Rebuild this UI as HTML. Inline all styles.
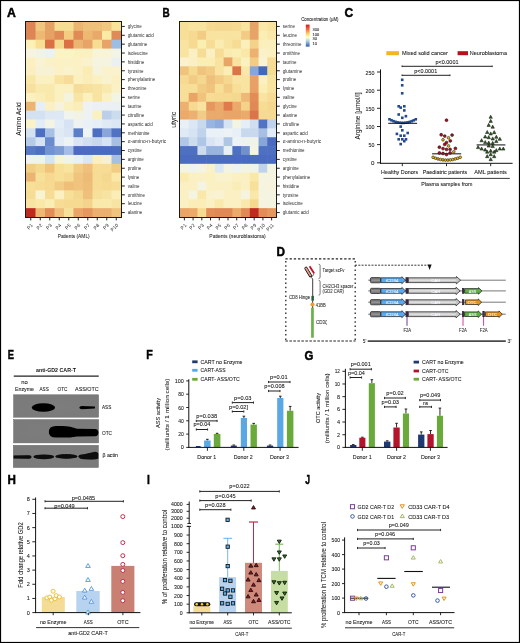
<!DOCTYPE html>
<html><head><meta charset="utf-8"><style>
html,body{margin:0;padding:0;background:#fff;}
svg{display:block;will-change:transform;}
svg text{font-family:"Liberation Sans", sans-serif;}
</style></head><body>
<svg width="520" height="643" viewBox="0 0 520 643" font-family='"Liberation Sans", sans-serif'>
<rect x="0" y="0" width="520" height="643" fill="#fff"/>
<text transform="translate(6.9 16.9) scale(1.02 1)" font-size="12" font-weight="bold" fill="#000" stroke="#000" stroke-width="0.45">A</text>
<rect x="26.00" y="22.00" width="10.10" height="9.46" fill="#dd8555"/>
<rect x="35.50" y="22.00" width="10.10" height="9.46" fill="#f0c77f"/>
<rect x="45.00" y="22.00" width="10.10" height="9.46" fill="#e6a265"/>
<rect x="54.50" y="22.00" width="10.10" height="9.46" fill="#f5de94"/>
<rect x="64.00" y="22.00" width="10.10" height="9.46" fill="#f5de94"/>
<rect x="73.50" y="22.00" width="10.10" height="9.46" fill="#ebb470"/>
<rect x="83.00" y="22.00" width="10.10" height="9.46" fill="#efc07a"/>
<rect x="92.50" y="22.00" width="10.10" height="9.46" fill="#efc07a"/>
<rect x="102.00" y="22.00" width="10.10" height="9.46" fill="#f0c77f"/>
<rect x="111.50" y="22.00" width="10.10" height="9.46" fill="#f7e49a"/>
<rect x="26.00" y="30.86" width="10.10" height="9.46" fill="#dd8555"/>
<rect x="35.50" y="30.86" width="10.10" height="9.46" fill="#edb872"/>
<rect x="45.00" y="30.86" width="10.10" height="9.46" fill="#e6a265"/>
<rect x="54.50" y="30.86" width="10.10" height="9.46" fill="#e08a58"/>
<rect x="64.00" y="30.86" width="10.10" height="9.46" fill="#f2cc80"/>
<rect x="73.50" y="30.86" width="10.10" height="9.46" fill="#e08a58"/>
<rect x="83.00" y="30.86" width="10.10" height="9.46" fill="#edb872"/>
<rect x="92.50" y="30.86" width="10.10" height="9.46" fill="#e9a96a"/>
<rect x="102.00" y="30.86" width="10.10" height="9.46" fill="#f9eaa6"/>
<rect x="111.50" y="30.86" width="10.10" height="9.46" fill="#e08a58"/>
<rect x="26.00" y="39.73" width="10.10" height="9.46" fill="#fcf0b6"/>
<rect x="35.50" y="39.73" width="10.10" height="9.46" fill="#f7df94"/>
<rect x="45.00" y="39.73" width="10.10" height="9.46" fill="#db7045"/>
<rect x="54.50" y="39.73" width="10.10" height="9.46" fill="#f5d98e"/>
<rect x="64.00" y="39.73" width="10.10" height="9.46" fill="#db7045"/>
<rect x="73.50" y="39.73" width="10.10" height="9.46" fill="#ebb470"/>
<rect x="83.00" y="39.73" width="10.10" height="9.46" fill="#e8a468"/>
<rect x="92.50" y="39.73" width="10.10" height="9.46" fill="#f6dd92"/>
<rect x="102.00" y="39.73" width="10.10" height="9.46" fill="#e8a468"/>
<rect x="111.50" y="39.73" width="10.10" height="9.46" fill="#9dbde4"/>
<rect x="26.00" y="48.59" width="10.10" height="9.46" fill="#f6f4e0"/>
<rect x="35.50" y="48.59" width="10.10" height="9.46" fill="#f1f3e6"/>
<rect x="45.00" y="48.59" width="10.10" height="9.46" fill="#ebf2f3"/>
<rect x="54.50" y="48.59" width="10.10" height="9.46" fill="#fcf3c4"/>
<rect x="64.00" y="48.59" width="10.10" height="9.46" fill="#fcf3c4"/>
<rect x="73.50" y="48.59" width="10.10" height="9.46" fill="#fbf1c0"/>
<rect x="83.00" y="48.59" width="10.10" height="9.46" fill="#fbf1c0"/>
<rect x="92.50" y="48.59" width="10.10" height="9.46" fill="#f8f4d8"/>
<rect x="102.00" y="48.59" width="10.10" height="9.46" fill="#f8f4d8"/>
<rect x="111.50" y="48.59" width="10.10" height="9.46" fill="#f3f4e6"/>
<rect x="26.00" y="57.45" width="10.10" height="9.46" fill="#fcf0c0"/>
<rect x="35.50" y="57.45" width="10.10" height="9.46" fill="#f9f3d4"/>
<rect x="45.00" y="57.45" width="10.10" height="9.46" fill="#fbf1c6"/>
<rect x="54.50" y="57.45" width="10.10" height="9.46" fill="#fbf1c4"/>
<rect x="64.00" y="57.45" width="10.10" height="9.46" fill="#fbf1c6"/>
<rect x="73.50" y="57.45" width="10.10" height="9.46" fill="#fbf1c4"/>
<rect x="83.00" y="57.45" width="10.10" height="9.46" fill="#f9f2cc"/>
<rect x="92.50" y="57.45" width="10.10" height="9.46" fill="#f5f4e0"/>
<rect x="102.00" y="57.45" width="10.10" height="9.46" fill="#f5f4e0"/>
<rect x="111.50" y="57.45" width="10.10" height="9.46" fill="#ebf1f3"/>
<rect x="26.00" y="66.32" width="10.10" height="9.46" fill="#fbeec0"/>
<rect x="35.50" y="66.32" width="10.10" height="9.46" fill="#f8f2d4"/>
<rect x="45.00" y="66.32" width="10.10" height="9.46" fill="#f8f2d4"/>
<rect x="54.50" y="66.32" width="10.10" height="9.46" fill="#fbf1c6"/>
<rect x="64.00" y="66.32" width="10.10" height="9.46" fill="#faf2cc"/>
<rect x="73.50" y="66.32" width="10.10" height="9.46" fill="#fbf1c6"/>
<rect x="83.00" y="66.32" width="10.10" height="9.46" fill="#fbecb4"/>
<rect x="92.50" y="66.32" width="10.10" height="9.46" fill="#f6f3dc"/>
<rect x="102.00" y="66.32" width="10.10" height="9.46" fill="#f9f2cc"/>
<rect x="111.50" y="66.32" width="10.10" height="9.46" fill="#f9f2cc"/>
<rect x="26.00" y="75.18" width="10.10" height="9.46" fill="#f9e7a8"/>
<rect x="35.50" y="75.18" width="10.10" height="9.46" fill="#faf0c4"/>
<rect x="45.00" y="75.18" width="10.10" height="9.46" fill="#fbf0c0"/>
<rect x="54.50" y="75.18" width="10.10" height="9.46" fill="#f8e3a0"/>
<rect x="64.00" y="75.18" width="10.10" height="9.46" fill="#f6dc98"/>
<rect x="73.50" y="75.18" width="10.10" height="9.46" fill="#fbf0c0"/>
<rect x="83.00" y="75.18" width="10.10" height="9.46" fill="#faedb8"/>
<rect x="92.50" y="75.18" width="10.10" height="9.46" fill="#fbf0c0"/>
<rect x="102.00" y="75.18" width="10.10" height="9.46" fill="#f8f2d0"/>
<rect x="111.50" y="75.18" width="10.10" height="9.46" fill="#faf0c4"/>
<rect x="26.00" y="84.05" width="10.10" height="9.46" fill="#f7e0a0"/>
<rect x="35.50" y="84.05" width="10.10" height="9.46" fill="#f9e9ac"/>
<rect x="45.00" y="84.05" width="10.10" height="9.46" fill="#f9e9ac"/>
<rect x="54.50" y="84.05" width="10.10" height="9.46" fill="#faf0c0"/>
<rect x="64.00" y="84.05" width="10.10" height="9.46" fill="#faf0c0"/>
<rect x="73.50" y="84.05" width="10.10" height="9.46" fill="#f6dc98"/>
<rect x="83.00" y="84.05" width="10.10" height="9.46" fill="#f7e09c"/>
<rect x="92.50" y="84.05" width="10.10" height="9.46" fill="#f8e4a2"/>
<rect x="102.00" y="84.05" width="10.10" height="9.46" fill="#f9e9ac"/>
<rect x="111.50" y="84.05" width="10.10" height="9.46" fill="#fbf1c6"/>
<rect x="26.00" y="92.91" width="10.10" height="9.46" fill="#fbf0c0"/>
<rect x="35.50" y="92.91" width="10.10" height="9.46" fill="#faedb8"/>
<rect x="45.00" y="92.91" width="10.10" height="9.46" fill="#f9e9ac"/>
<rect x="54.50" y="92.91" width="10.10" height="9.46" fill="#fbf0c0"/>
<rect x="64.00" y="92.91" width="10.10" height="9.46" fill="#f3f3df"/>
<rect x="73.50" y="92.91" width="10.10" height="9.46" fill="#f8e5a4"/>
<rect x="83.00" y="92.91" width="10.10" height="9.46" fill="#fbf0c0"/>
<rect x="92.50" y="92.91" width="10.10" height="9.46" fill="#f8e4a2"/>
<rect x="102.00" y="92.91" width="10.10" height="9.46" fill="#faf0c4"/>
<rect x="111.50" y="92.91" width="10.10" height="9.46" fill="#f2f4e4"/>
<rect x="26.00" y="101.77" width="10.10" height="9.46" fill="#ebb470"/>
<rect x="35.50" y="101.77" width="10.10" height="9.46" fill="#e6eff8"/>
<rect x="45.00" y="101.77" width="10.10" height="9.46" fill="#fbf0c4"/>
<rect x="54.50" y="101.77" width="10.10" height="9.46" fill="#f6f2dc"/>
<rect x="64.00" y="101.77" width="10.10" height="9.46" fill="#fbf0c0"/>
<rect x="73.50" y="101.77" width="10.10" height="9.46" fill="#faedb8"/>
<rect x="83.00" y="101.77" width="10.10" height="9.46" fill="#eef2f2"/>
<rect x="92.50" y="101.77" width="10.10" height="9.46" fill="#eaf0f4"/>
<rect x="102.00" y="101.77" width="10.10" height="9.46" fill="#eaf0f4"/>
<rect x="111.50" y="101.77" width="10.10" height="9.46" fill="#eaf0f4"/>
<rect x="26.00" y="110.64" width="10.10" height="9.46" fill="#d3e1f1"/>
<rect x="35.50" y="110.64" width="10.10" height="9.46" fill="#d3e1f1"/>
<rect x="45.00" y="110.64" width="10.10" height="9.46" fill="#dde8f4"/>
<rect x="54.50" y="110.64" width="10.10" height="9.46" fill="#dde8f4"/>
<rect x="64.00" y="110.64" width="10.10" height="9.46" fill="#f0f3ee"/>
<rect x="73.50" y="110.64" width="10.10" height="9.46" fill="#f3f3e4"/>
<rect x="83.00" y="110.64" width="10.10" height="9.46" fill="#eef2f2"/>
<rect x="92.50" y="110.64" width="10.10" height="9.46" fill="#fbf0c0"/>
<rect x="102.00" y="110.64" width="10.10" height="9.46" fill="#bccfea"/>
<rect x="111.50" y="110.64" width="10.10" height="9.46" fill="#ccdcef"/>
<rect x="26.00" y="119.50" width="10.10" height="9.46" fill="#fbf3c8"/>
<rect x="35.50" y="119.50" width="10.10" height="9.46" fill="#e3edf7"/>
<rect x="45.00" y="119.50" width="10.10" height="9.46" fill="#f3f4e6"/>
<rect x="54.50" y="119.50" width="10.10" height="9.46" fill="#e3edf7"/>
<rect x="64.00" y="119.50" width="10.10" height="9.46" fill="#d6e3f2"/>
<rect x="73.50" y="119.50" width="10.10" height="9.46" fill="#eef2f0"/>
<rect x="83.00" y="119.50" width="10.10" height="9.46" fill="#eaf0f6"/>
<rect x="92.50" y="119.50" width="10.10" height="9.46" fill="#e6eff8"/>
<rect x="102.00" y="119.50" width="10.10" height="9.46" fill="#e0eaf5"/>
<rect x="111.50" y="119.50" width="10.10" height="9.46" fill="#dce7f4"/>
<rect x="26.00" y="128.36" width="10.10" height="9.46" fill="#d3e1f1"/>
<rect x="35.50" y="128.36" width="10.10" height="9.46" fill="#4d6fc2"/>
<rect x="45.00" y="128.36" width="10.10" height="9.46" fill="#a8c0e4"/>
<rect x="54.50" y="128.36" width="10.10" height="9.46" fill="#e0eaf5"/>
<rect x="64.00" y="128.36" width="10.10" height="9.46" fill="#dae5f3"/>
<rect x="73.50" y="128.36" width="10.10" height="9.46" fill="#5a7ec8"/>
<rect x="83.00" y="128.36" width="10.10" height="9.46" fill="#eef3f3"/>
<rect x="92.50" y="128.36" width="10.10" height="9.46" fill="#4d6fc2"/>
<rect x="102.00" y="128.36" width="10.10" height="9.46" fill="#8aa6d8"/>
<rect x="111.50" y="128.36" width="10.10" height="9.46" fill="#4f72c4"/>
<rect x="26.00" y="137.23" width="10.10" height="9.46" fill="#b5cbe8"/>
<rect x="35.50" y="137.23" width="10.10" height="9.46" fill="#d6e3f2"/>
<rect x="45.00" y="137.23" width="10.10" height="9.46" fill="#6a8ccf"/>
<rect x="54.50" y="137.23" width="10.10" height="9.46" fill="#e3ecf6"/>
<rect x="64.00" y="137.23" width="10.10" height="9.46" fill="#edf2f3"/>
<rect x="73.50" y="137.23" width="10.10" height="9.46" fill="#dae5f3"/>
<rect x="83.00" y="137.23" width="10.10" height="9.46" fill="#d0def0"/>
<rect x="92.50" y="137.23" width="10.10" height="9.46" fill="#c8d9ee"/>
<rect x="102.00" y="137.23" width="10.10" height="9.46" fill="#d6e3f2"/>
<rect x="111.50" y="137.23" width="10.10" height="9.46" fill="#a6bfe3"/>
<rect x="26.00" y="146.09" width="10.10" height="9.46" fill="#5778c6"/>
<rect x="35.50" y="146.09" width="10.10" height="9.46" fill="#4f70c2"/>
<rect x="45.00" y="146.09" width="10.10" height="9.46" fill="#7293d2"/>
<rect x="54.50" y="146.09" width="10.10" height="9.46" fill="#7d9bd5"/>
<rect x="64.00" y="146.09" width="10.10" height="9.46" fill="#a3bde3"/>
<rect x="73.50" y="146.09" width="10.10" height="9.46" fill="#4a6bc0"/>
<rect x="83.00" y="146.09" width="10.10" height="9.46" fill="#4a6bc0"/>
<rect x="92.50" y="146.09" width="10.10" height="9.46" fill="#4a6bc0"/>
<rect x="102.00" y="146.09" width="10.10" height="9.46" fill="#4a6bc0"/>
<rect x="111.50" y="146.09" width="10.10" height="9.46" fill="#4a6bc0"/>
<rect x="26.00" y="154.95" width="10.10" height="9.46" fill="#f0f3ec"/>
<rect x="35.50" y="154.95" width="10.10" height="9.46" fill="#f0f3ec"/>
<rect x="45.00" y="154.95" width="10.10" height="9.46" fill="#d6e3f2"/>
<rect x="54.50" y="154.95" width="10.10" height="9.46" fill="#f8f2d6"/>
<rect x="64.00" y="154.95" width="10.10" height="9.46" fill="#f0f3ec"/>
<rect x="73.50" y="154.95" width="10.10" height="9.46" fill="#e8eff6"/>
<rect x="83.00" y="154.95" width="10.10" height="9.46" fill="#dae6f3"/>
<rect x="92.50" y="154.95" width="10.10" height="9.46" fill="#fbf0bd"/>
<rect x="102.00" y="154.95" width="10.10" height="9.46" fill="#f8f1d0"/>
<rect x="111.50" y="154.95" width="10.10" height="9.46" fill="#a6bfe3"/>
<rect x="26.00" y="163.82" width="10.10" height="9.46" fill="#f2cd84"/>
<rect x="35.50" y="163.82" width="10.10" height="9.46" fill="#f5d890"/>
<rect x="45.00" y="163.82" width="10.10" height="9.46" fill="#f0c47c"/>
<rect x="54.50" y="163.82" width="10.10" height="9.46" fill="#f7df98"/>
<rect x="64.00" y="163.82" width="10.10" height="9.46" fill="#f8e4a0"/>
<rect x="73.50" y="163.82" width="10.10" height="9.46" fill="#f2cc84"/>
<rect x="83.00" y="163.82" width="10.10" height="9.46" fill="#efc07c"/>
<rect x="92.50" y="163.82" width="10.10" height="9.46" fill="#f6dc94"/>
<rect x="102.00" y="163.82" width="10.10" height="9.46" fill="#f6dc94"/>
<rect x="111.50" y="163.82" width="10.10" height="9.46" fill="#f2cc84"/>
<rect x="26.00" y="172.68" width="10.10" height="9.46" fill="#ecb472"/>
<rect x="35.50" y="172.68" width="10.10" height="9.46" fill="#f7e09a"/>
<rect x="45.00" y="172.68" width="10.10" height="9.46" fill="#f6d890"/>
<rect x="54.50" y="172.68" width="10.10" height="9.46" fill="#f7df98"/>
<rect x="64.00" y="172.68" width="10.10" height="9.46" fill="#f6da92"/>
<rect x="73.50" y="172.68" width="10.10" height="9.46" fill="#f0c47c"/>
<rect x="83.00" y="172.68" width="10.10" height="9.46" fill="#edbb78"/>
<rect x="92.50" y="172.68" width="10.10" height="9.46" fill="#f6dc94"/>
<rect x="102.00" y="172.68" width="10.10" height="9.46" fill="#f5d890"/>
<rect x="111.50" y="172.68" width="10.10" height="9.46" fill="#f9e8a6"/>
<rect x="26.00" y="181.55" width="10.10" height="9.46" fill="#f7df98"/>
<rect x="35.50" y="181.55" width="10.10" height="9.46" fill="#f6dc94"/>
<rect x="45.00" y="181.55" width="10.10" height="9.46" fill="#f6da92"/>
<rect x="54.50" y="181.55" width="10.10" height="9.46" fill="#f2cc84"/>
<rect x="64.00" y="181.55" width="10.10" height="9.46" fill="#efbf7a"/>
<rect x="73.50" y="181.55" width="10.10" height="9.46" fill="#f0c47c"/>
<rect x="83.00" y="181.55" width="10.10" height="9.46" fill="#eebd78"/>
<rect x="92.50" y="181.55" width="10.10" height="9.46" fill="#f6dc94"/>
<rect x="102.00" y="181.55" width="10.10" height="9.46" fill="#f6da92"/>
<rect x="111.50" y="181.55" width="10.10" height="9.46" fill="#f6dc94"/>
<rect x="26.00" y="190.41" width="10.10" height="9.46" fill="#f6dc94"/>
<rect x="35.50" y="190.41" width="10.10" height="9.46" fill="#f8f3d0"/>
<rect x="45.00" y="190.41" width="10.10" height="9.46" fill="#f6dc94"/>
<rect x="54.50" y="190.41" width="10.10" height="9.46" fill="#faf0c0"/>
<rect x="64.00" y="190.41" width="10.10" height="9.46" fill="#f7e09a"/>
<rect x="73.50" y="190.41" width="10.10" height="9.46" fill="#f5d890"/>
<rect x="83.00" y="190.41" width="10.10" height="9.46" fill="#efc07c"/>
<rect x="92.50" y="190.41" width="10.10" height="9.46" fill="#f7e09a"/>
<rect x="102.00" y="190.41" width="10.10" height="9.46" fill="#f8e4a2"/>
<rect x="111.50" y="190.41" width="10.10" height="9.46" fill="#faedb6"/>
<rect x="26.00" y="199.27" width="10.10" height="9.46" fill="#f8e4a2"/>
<rect x="35.50" y="199.27" width="10.10" height="9.46" fill="#f9e8a8"/>
<rect x="45.00" y="199.27" width="10.10" height="9.46" fill="#faeeb4"/>
<rect x="54.50" y="199.27" width="10.10" height="9.46" fill="#f6dc94"/>
<rect x="64.00" y="199.27" width="10.10" height="9.46" fill="#f6da92"/>
<rect x="73.50" y="199.27" width="10.10" height="9.46" fill="#f6da92"/>
<rect x="83.00" y="199.27" width="10.10" height="9.46" fill="#f4d48c"/>
<rect x="92.50" y="199.27" width="10.10" height="9.46" fill="#f9eaac"/>
<rect x="102.00" y="199.27" width="10.10" height="9.46" fill="#f9eaac"/>
<rect x="111.50" y="199.27" width="10.10" height="9.46" fill="#f8e4a2"/>
<rect x="26.00" y="208.14" width="10.10" height="9.46" fill="#bf2a1e"/>
<rect x="35.50" y="208.14" width="10.10" height="9.46" fill="#edb874"/>
<rect x="45.00" y="208.14" width="10.10" height="9.46" fill="#e28c58"/>
<rect x="54.50" y="208.14" width="10.10" height="9.46" fill="#efc07c"/>
<rect x="64.00" y="208.14" width="10.10" height="9.46" fill="#f7e09a"/>
<rect x="73.50" y="208.14" width="10.10" height="9.46" fill="#e9a466"/>
<rect x="83.00" y="208.14" width="10.10" height="9.46" fill="#e49860"/>
<rect x="92.50" y="208.14" width="10.10" height="9.46" fill="#ebb070"/>
<rect x="102.00" y="208.14" width="10.10" height="9.46" fill="#ebb070"/>
<rect x="111.50" y="208.14" width="10.10" height="9.46" fill="#f0c47c"/>
<rect x="25.50" y="21.50" width="96.00" height="196.00" fill="none" stroke="#1a1a1a" stroke-width="1"/>
<line x1="122.00" y1="26.43" x2="124.80" y2="26.43" stroke="#222" stroke-width="1"/>
<text x="127.80" y="26.68" font-size="4.9" text-anchor="start" fill="#2a2a2a" textLength="13.88" lengthAdjust="spacingAndGlyphs" dominant-baseline="central">glycine</text>
<line x1="122.00" y1="35.30" x2="124.80" y2="35.30" stroke="#222" stroke-width="1"/>
<text x="127.80" y="35.55" font-size="4.9" text-anchor="start" fill="#2a2a2a" textLength="26.02" lengthAdjust="spacingAndGlyphs" dominant-baseline="central">glutamic acid</text>
<line x1="122.00" y1="44.16" x2="124.80" y2="44.16" stroke="#222" stroke-width="1"/>
<text x="127.80" y="44.41" font-size="4.9" text-anchor="start" fill="#2a2a2a" textLength="19.33" lengthAdjust="spacingAndGlyphs" dominant-baseline="central">glutamine</text>
<line x1="122.00" y1="53.02" x2="124.80" y2="53.02" stroke="#222" stroke-width="1"/>
<text x="127.80" y="53.27" font-size="4.9" text-anchor="start" fill="#2a2a2a" textLength="19.83" lengthAdjust="spacingAndGlyphs" dominant-baseline="central">isoleucine</text>
<line x1="122.00" y1="61.89" x2="124.80" y2="61.89" stroke="#222" stroke-width="1"/>
<text x="127.80" y="62.14" font-size="4.9" text-anchor="start" fill="#2a2a2a" textLength="16.36" lengthAdjust="spacingAndGlyphs" dominant-baseline="central">histidine</text>
<line x1="122.00" y1="70.75" x2="124.80" y2="70.75" stroke="#222" stroke-width="1"/>
<text x="127.80" y="71.00" font-size="4.9" text-anchor="start" fill="#2a2a2a" textLength="15.61" lengthAdjust="spacingAndGlyphs" dominant-baseline="central">tyrosine</text>
<line x1="122.00" y1="79.61" x2="124.80" y2="79.61" stroke="#222" stroke-width="1"/>
<text x="127.80" y="79.86" font-size="4.9" text-anchor="start" fill="#2a2a2a" textLength="27.52" lengthAdjust="spacingAndGlyphs" dominant-baseline="central">phenylalanine</text>
<line x1="122.00" y1="88.48" x2="124.80" y2="88.48" stroke="#222" stroke-width="1"/>
<text x="127.80" y="88.73" font-size="4.9" text-anchor="start" fill="#2a2a2a" textLength="18.59" lengthAdjust="spacingAndGlyphs" dominant-baseline="central">threonine</text>
<line x1="122.00" y1="97.34" x2="124.80" y2="97.34" stroke="#222" stroke-width="1"/>
<text x="127.80" y="97.59" font-size="4.9" text-anchor="start" fill="#2a2a2a" textLength="12.14" lengthAdjust="spacingAndGlyphs" dominant-baseline="central">serine</text>
<line x1="122.00" y1="106.20" x2="124.80" y2="106.20" stroke="#222" stroke-width="1"/>
<text x="127.80" y="106.45" font-size="4.9" text-anchor="start" fill="#2a2a2a" textLength="13.63" lengthAdjust="spacingAndGlyphs" dominant-baseline="central">taurine</text>
<line x1="122.00" y1="115.07" x2="124.80" y2="115.07" stroke="#222" stroke-width="1"/>
<text x="127.80" y="115.32" font-size="4.9" text-anchor="start" fill="#2a2a2a" textLength="16.35" lengthAdjust="spacingAndGlyphs" dominant-baseline="central">citrulline</text>
<line x1="122.00" y1="123.93" x2="124.80" y2="123.93" stroke="#222" stroke-width="1"/>
<text x="127.80" y="124.18" font-size="4.9" text-anchor="start" fill="#2a2a2a" textLength="25.03" lengthAdjust="spacingAndGlyphs" dominant-baseline="central">aspartic acid</text>
<line x1="122.00" y1="132.80" x2="124.80" y2="132.80" stroke="#222" stroke-width="1"/>
<text x="127.80" y="133.05" font-size="4.9" text-anchor="start" fill="#2a2a2a" textLength="21.81" lengthAdjust="spacingAndGlyphs" dominant-baseline="central">methionine</text>
<line x1="122.00" y1="141.66" x2="124.80" y2="141.66" stroke="#222" stroke-width="1"/>
<text x="127.80" y="141.91" font-size="4.9" text-anchor="start" fill="#2a2a2a" textLength="38.40" lengthAdjust="spacingAndGlyphs" dominant-baseline="central">α-amino-n-butyric</text>
<line x1="122.00" y1="150.52" x2="124.80" y2="150.52" stroke="#222" stroke-width="1"/>
<text x="127.80" y="150.77" font-size="4.9" text-anchor="start" fill="#2a2a2a" textLength="13.88" lengthAdjust="spacingAndGlyphs" dominant-baseline="central">cystine</text>
<line x1="122.00" y1="159.39" x2="124.80" y2="159.39" stroke="#222" stroke-width="1"/>
<text x="127.80" y="159.64" font-size="4.9" text-anchor="start" fill="#2a2a2a" textLength="15.86" lengthAdjust="spacingAndGlyphs" dominant-baseline="central">arginine</text>
<line x1="122.00" y1="168.25" x2="124.80" y2="168.25" stroke="#222" stroke-width="1"/>
<text x="127.80" y="168.50" font-size="4.9" text-anchor="start" fill="#2a2a2a" textLength="13.38" lengthAdjust="spacingAndGlyphs" dominant-baseline="central">proline</text>
<line x1="122.00" y1="177.11" x2="124.80" y2="177.11" stroke="#222" stroke-width="1"/>
<text x="127.80" y="177.36" font-size="4.9" text-anchor="start" fill="#2a2a2a" textLength="11.40" lengthAdjust="spacingAndGlyphs" dominant-baseline="central">lysine</text>
<line x1="122.00" y1="185.98" x2="124.80" y2="185.98" stroke="#222" stroke-width="1"/>
<text x="127.80" y="186.23" font-size="4.9" text-anchor="start" fill="#2a2a2a" textLength="11.65" lengthAdjust="spacingAndGlyphs" dominant-baseline="central">valine</text>
<line x1="122.00" y1="194.84" x2="124.80" y2="194.84" stroke="#222" stroke-width="1"/>
<text x="127.80" y="195.09" font-size="4.9" text-anchor="start" fill="#2a2a2a" textLength="17.10" lengthAdjust="spacingAndGlyphs" dominant-baseline="central">ornithine</text>
<line x1="122.00" y1="203.70" x2="124.80" y2="203.70" stroke="#222" stroke-width="1"/>
<text x="127.80" y="203.95" font-size="4.9" text-anchor="start" fill="#2a2a2a" textLength="14.13" lengthAdjust="spacingAndGlyphs" dominant-baseline="central">leucine</text>
<line x1="122.00" y1="212.57" x2="124.80" y2="212.57" stroke="#222" stroke-width="1"/>
<text x="127.80" y="212.82" font-size="4.9" text-anchor="start" fill="#2a2a2a" textLength="14.38" lengthAdjust="spacingAndGlyphs" dominant-baseline="central">alanine</text>
<line x1="30.75" y1="218.00" x2="30.75" y2="220.40" stroke="#222" stroke-width="1"/>
<text x="32.15" y="224.60" font-size="4.9" text-anchor="end" fill="#2a2a2a" transform="rotate(-45 32.15 224.60)" dominant-baseline="central">P1</text>
<line x1="40.25" y1="218.00" x2="40.25" y2="220.40" stroke="#222" stroke-width="1"/>
<text x="41.65" y="224.60" font-size="4.9" text-anchor="end" fill="#2a2a2a" transform="rotate(-45 41.65 224.60)" dominant-baseline="central">P2</text>
<line x1="49.75" y1="218.00" x2="49.75" y2="220.40" stroke="#222" stroke-width="1"/>
<text x="51.15" y="224.60" font-size="4.9" text-anchor="end" fill="#2a2a2a" transform="rotate(-45 51.15 224.60)" dominant-baseline="central">P3</text>
<line x1="59.25" y1="218.00" x2="59.25" y2="220.40" stroke="#222" stroke-width="1"/>
<text x="60.65" y="224.60" font-size="4.9" text-anchor="end" fill="#2a2a2a" transform="rotate(-45 60.65 224.60)" dominant-baseline="central">P4</text>
<line x1="68.75" y1="218.00" x2="68.75" y2="220.40" stroke="#222" stroke-width="1"/>
<text x="70.15" y="224.60" font-size="4.9" text-anchor="end" fill="#2a2a2a" transform="rotate(-45 70.15 224.60)" dominant-baseline="central">P5</text>
<line x1="78.25" y1="218.00" x2="78.25" y2="220.40" stroke="#222" stroke-width="1"/>
<text x="79.65" y="224.60" font-size="4.9" text-anchor="end" fill="#2a2a2a" transform="rotate(-45 79.65 224.60)" dominant-baseline="central">P6</text>
<line x1="87.75" y1="218.00" x2="87.75" y2="220.40" stroke="#222" stroke-width="1"/>
<text x="89.15" y="224.60" font-size="4.9" text-anchor="end" fill="#2a2a2a" transform="rotate(-45 89.15 224.60)" dominant-baseline="central">P7</text>
<line x1="97.25" y1="218.00" x2="97.25" y2="220.40" stroke="#222" stroke-width="1"/>
<text x="98.65" y="224.60" font-size="4.9" text-anchor="end" fill="#2a2a2a" transform="rotate(-45 98.65 224.60)" dominant-baseline="central">P8</text>
<line x1="106.75" y1="218.00" x2="106.75" y2="220.40" stroke="#222" stroke-width="1"/>
<text x="108.15" y="224.60" font-size="4.9" text-anchor="end" fill="#2a2a2a" transform="rotate(-45 108.15 224.60)" dominant-baseline="central">P9</text>
<line x1="116.25" y1="218.00" x2="116.25" y2="220.40" stroke="#222" stroke-width="1"/>
<text x="117.65" y="224.60" font-size="4.9" text-anchor="end" fill="#2a2a2a" transform="rotate(-45 117.65 224.60)" dominant-baseline="central">P10</text>
<text x="73.70" y="235.90" font-size="6.1" text-anchor="middle" fill="#1c1c1c" textLength="32.00" lengthAdjust="spacingAndGlyphs" stroke="#1c1c1c" stroke-width="0.07" dominant-baseline="central">Patients (AML)</text>
<text x="18.70" y="119.00" font-size="6.9" text-anchor="middle" fill="#1c1c1c" textLength="33.60" lengthAdjust="spacingAndGlyphs" transform="rotate(-90 18.70 119.00)" stroke="#1c1c1c" stroke-width="0.07" dominant-baseline="central">Amino Acid</text>
<text transform="translate(162.6 16.8) scale(0.83 1)" font-size="12" font-weight="bold" fill="#000" stroke="#000" stroke-width="0.45">B</text>
<rect x="180.00" y="22.00" width="9.33" height="9.46" fill="#f7df98"/>
<rect x="188.73" y="22.00" width="9.33" height="9.46" fill="#f8e4a0"/>
<rect x="197.45" y="22.00" width="9.33" height="9.46" fill="#f8e4a0"/>
<rect x="206.18" y="22.00" width="9.33" height="9.46" fill="#f6da92"/>
<rect x="214.91" y="22.00" width="9.33" height="9.46" fill="#f5d890"/>
<rect x="223.64" y="22.00" width="9.33" height="9.46" fill="#f5d890"/>
<rect x="232.36" y="22.00" width="9.33" height="9.46" fill="#f6da92"/>
<rect x="241.09" y="22.00" width="9.33" height="9.46" fill="#f8e4a0"/>
<rect x="249.82" y="22.00" width="9.33" height="9.46" fill="#e8a468"/>
<rect x="258.55" y="22.00" width="9.33" height="9.46" fill="#f9e8a8"/>
<rect x="267.27" y="22.00" width="9.33" height="9.46" fill="#f8e4a0"/>
<rect x="180.00" y="30.86" width="9.33" height="9.46" fill="#f7df98"/>
<rect x="188.73" y="30.86" width="9.33" height="9.46" fill="#f6da92"/>
<rect x="197.45" y="30.86" width="9.33" height="9.46" fill="#f2cc84"/>
<rect x="206.18" y="30.86" width="9.33" height="9.46" fill="#f8e4a0"/>
<rect x="214.91" y="30.86" width="9.33" height="9.46" fill="#f8e4a0"/>
<rect x="223.64" y="30.86" width="9.33" height="9.46" fill="#f8e4a0"/>
<rect x="232.36" y="30.86" width="9.33" height="9.46" fill="#f8e4a0"/>
<rect x="241.09" y="30.86" width="9.33" height="9.46" fill="#f2cc84"/>
<rect x="249.82" y="30.86" width="9.33" height="9.46" fill="#e8a468"/>
<rect x="258.55" y="30.86" width="9.33" height="9.46" fill="#faeeb4"/>
<rect x="267.27" y="30.86" width="9.33" height="9.46" fill="#f9e8a8"/>
<rect x="180.00" y="39.73" width="9.33" height="9.46" fill="#f8e4a0"/>
<rect x="188.73" y="39.73" width="9.33" height="9.46" fill="#f6da92"/>
<rect x="197.45" y="39.73" width="9.33" height="9.46" fill="#faeeb0"/>
<rect x="206.18" y="39.73" width="9.33" height="9.46" fill="#f6dc94"/>
<rect x="214.91" y="39.73" width="9.33" height="9.46" fill="#faecb0"/>
<rect x="223.64" y="39.73" width="9.33" height="9.46" fill="#f8e4a0"/>
<rect x="232.36" y="39.73" width="9.33" height="9.46" fill="#f6dc94"/>
<rect x="241.09" y="39.73" width="9.33" height="9.46" fill="#fbf0bc"/>
<rect x="249.82" y="39.73" width="9.33" height="9.46" fill="#f4d28a"/>
<rect x="258.55" y="39.73" width="9.33" height="9.46" fill="#fbf0bc"/>
<rect x="267.27" y="39.73" width="9.33" height="9.46" fill="#fbf0bc"/>
<rect x="180.00" y="48.59" width="9.33" height="9.46" fill="#f8e4a0"/>
<rect x="188.73" y="48.59" width="9.33" height="9.46" fill="#fbf0c4"/>
<rect x="197.45" y="48.59" width="9.33" height="9.46" fill="#f6dc94"/>
<rect x="206.18" y="48.59" width="9.33" height="9.46" fill="#fbf0c4"/>
<rect x="214.91" y="48.59" width="9.33" height="9.46" fill="#f6dc94"/>
<rect x="223.64" y="48.59" width="9.33" height="9.46" fill="#faecb0"/>
<rect x="232.36" y="48.59" width="9.33" height="9.46" fill="#faeeb4"/>
<rect x="241.09" y="48.59" width="9.33" height="9.46" fill="#f9e8a8"/>
<rect x="249.82" y="48.59" width="9.33" height="9.46" fill="#ecb070"/>
<rect x="258.55" y="48.59" width="9.33" height="9.46" fill="#fbf1c8"/>
<rect x="267.27" y="48.59" width="9.33" height="9.46" fill="#faf0c0"/>
<rect x="180.00" y="57.45" width="9.33" height="9.46" fill="#fbf1cc"/>
<rect x="188.73" y="57.45" width="9.33" height="9.46" fill="#fbf0c4"/>
<rect x="197.45" y="57.45" width="9.33" height="9.46" fill="#faeeb4"/>
<rect x="206.18" y="57.45" width="9.33" height="9.46" fill="#faeeb4"/>
<rect x="214.91" y="57.45" width="9.33" height="9.46" fill="#f8e4a0"/>
<rect x="223.64" y="57.45" width="9.33" height="9.46" fill="#e9a466"/>
<rect x="232.36" y="57.45" width="9.33" height="9.46" fill="#f8e4a0"/>
<rect x="241.09" y="57.45" width="9.33" height="9.46" fill="#fbf0c0"/>
<rect x="249.82" y="57.45" width="9.33" height="9.46" fill="#f2cc84"/>
<rect x="258.55" y="57.45" width="9.33" height="9.46" fill="#f9f3d4"/>
<rect x="267.27" y="57.45" width="9.33" height="9.46" fill="#f6dc94"/>
<rect x="180.00" y="66.32" width="9.33" height="9.46" fill="#f0c47c"/>
<rect x="188.73" y="66.32" width="9.33" height="9.46" fill="#f6da92"/>
<rect x="197.45" y="66.32" width="9.33" height="9.46" fill="#f0c47c"/>
<rect x="206.18" y="66.32" width="9.33" height="9.46" fill="#f2cc84"/>
<rect x="214.91" y="66.32" width="9.33" height="9.46" fill="#f8e4a0"/>
<rect x="223.64" y="66.32" width="9.33" height="9.46" fill="#faeeb4"/>
<rect x="232.36" y="66.32" width="9.33" height="9.46" fill="#dd7448"/>
<rect x="241.09" y="66.32" width="9.33" height="9.46" fill="#f9e8a8"/>
<rect x="249.82" y="66.32" width="9.33" height="9.46" fill="#86a5d8"/>
<rect x="258.55" y="66.32" width="9.33" height="9.46" fill="#4468be"/>
<rect x="267.27" y="66.32" width="9.33" height="9.46" fill="#f6dc94"/>
<rect x="180.00" y="75.18" width="9.33" height="9.46" fill="#f6da92"/>
<rect x="188.73" y="75.18" width="9.33" height="9.46" fill="#f2cc84"/>
<rect x="197.45" y="75.18" width="9.33" height="9.46" fill="#f5d890"/>
<rect x="206.18" y="75.18" width="9.33" height="9.46" fill="#efc07c"/>
<rect x="214.91" y="75.18" width="9.33" height="9.46" fill="#f2cc84"/>
<rect x="223.64" y="75.18" width="9.33" height="9.46" fill="#f5d890"/>
<rect x="232.36" y="75.18" width="9.33" height="9.46" fill="#f8e4a0"/>
<rect x="241.09" y="75.18" width="9.33" height="9.46" fill="#f8e4a0"/>
<rect x="249.82" y="75.18" width="9.33" height="9.46" fill="#e8a066"/>
<rect x="258.55" y="75.18" width="9.33" height="9.46" fill="#fbf0c0"/>
<rect x="267.27" y="75.18" width="9.33" height="9.46" fill="#f8e4a0"/>
<rect x="180.00" y="84.05" width="9.33" height="9.46" fill="#f7df98"/>
<rect x="188.73" y="84.05" width="9.33" height="9.46" fill="#f7df98"/>
<rect x="197.45" y="84.05" width="9.33" height="9.46" fill="#f2cc84"/>
<rect x="206.18" y="84.05" width="9.33" height="9.46" fill="#f0c47c"/>
<rect x="214.91" y="84.05" width="9.33" height="9.46" fill="#f7df98"/>
<rect x="223.64" y="84.05" width="9.33" height="9.46" fill="#f2cc84"/>
<rect x="232.36" y="84.05" width="9.33" height="9.46" fill="#f7df98"/>
<rect x="241.09" y="84.05" width="9.33" height="9.46" fill="#f8e4a0"/>
<rect x="249.82" y="84.05" width="9.33" height="9.46" fill="#e8a066"/>
<rect x="258.55" y="84.05" width="9.33" height="9.46" fill="#faeeb4"/>
<rect x="267.27" y="84.05" width="9.33" height="9.46" fill="#f8e4a0"/>
<rect x="180.00" y="92.91" width="9.33" height="9.46" fill="#f7df98"/>
<rect x="188.73" y="92.91" width="9.33" height="9.46" fill="#e9a466"/>
<rect x="197.45" y="92.91" width="9.33" height="9.46" fill="#f0c47c"/>
<rect x="206.18" y="92.91" width="9.33" height="9.46" fill="#f6dc94"/>
<rect x="214.91" y="92.91" width="9.33" height="9.46" fill="#f6da92"/>
<rect x="223.64" y="92.91" width="9.33" height="9.46" fill="#f6da92"/>
<rect x="232.36" y="92.91" width="9.33" height="9.46" fill="#f5d890"/>
<rect x="241.09" y="92.91" width="9.33" height="9.46" fill="#eeb878"/>
<rect x="249.82" y="92.91" width="9.33" height="9.46" fill="#e28c58"/>
<rect x="258.55" y="92.91" width="9.33" height="9.46" fill="#f8e4a0"/>
<rect x="267.27" y="92.91" width="9.33" height="9.46" fill="#f6dc94"/>
<rect x="180.00" y="101.77" width="9.33" height="9.46" fill="#ecb070"/>
<rect x="188.73" y="101.77" width="9.33" height="9.46" fill="#f6da92"/>
<rect x="197.45" y="101.77" width="9.33" height="9.46" fill="#f8e4a0"/>
<rect x="206.18" y="101.77" width="9.33" height="9.46" fill="#e49860"/>
<rect x="214.91" y="101.77" width="9.33" height="9.46" fill="#ebaa6a"/>
<rect x="223.64" y="101.77" width="9.33" height="9.46" fill="#de7a4c"/>
<rect x="232.36" y="101.77" width="9.33" height="9.46" fill="#ebaa6a"/>
<rect x="241.09" y="101.77" width="9.33" height="9.46" fill="#f4d28a"/>
<rect x="249.82" y="101.77" width="9.33" height="9.46" fill="#e08856"/>
<rect x="258.55" y="101.77" width="9.33" height="9.46" fill="#f6dc94"/>
<rect x="267.27" y="101.77" width="9.33" height="9.46" fill="#f5d890"/>
<rect x="180.00" y="110.64" width="9.33" height="9.46" fill="#ebaa6a"/>
<rect x="188.73" y="110.64" width="9.33" height="9.46" fill="#ecb070"/>
<rect x="197.45" y="110.64" width="9.33" height="9.46" fill="#f2cc84"/>
<rect x="206.18" y="110.64" width="9.33" height="9.46" fill="#ebaa6a"/>
<rect x="214.91" y="110.64" width="9.33" height="9.46" fill="#ebaa6a"/>
<rect x="223.64" y="110.64" width="9.33" height="9.46" fill="#e9a466"/>
<rect x="232.36" y="110.64" width="9.33" height="9.46" fill="#e9a466"/>
<rect x="241.09" y="110.64" width="9.33" height="9.46" fill="#ebaa6a"/>
<rect x="249.82" y="110.64" width="9.33" height="9.46" fill="#dd7448"/>
<rect x="258.55" y="110.64" width="9.33" height="9.46" fill="#f6da92"/>
<rect x="267.27" y="110.64" width="9.33" height="9.46" fill="#f6da92"/>
<rect x="180.00" y="119.50" width="9.33" height="9.46" fill="#e8f0f6"/>
<rect x="188.73" y="119.50" width="9.33" height="9.46" fill="#dce7f4"/>
<rect x="197.45" y="119.50" width="9.33" height="9.46" fill="#c8d9ee"/>
<rect x="206.18" y="119.50" width="9.33" height="9.46" fill="#98b4e0"/>
<rect x="214.91" y="119.50" width="9.33" height="9.46" fill="#8eabdc"/>
<rect x="223.64" y="119.50" width="9.33" height="9.46" fill="#d6e3f2"/>
<rect x="232.36" y="119.50" width="9.33" height="9.46" fill="#f3f4e2"/>
<rect x="241.09" y="119.50" width="9.33" height="9.46" fill="#e6eef7"/>
<rect x="249.82" y="119.50" width="9.33" height="9.46" fill="#d0def0"/>
<rect x="258.55" y="119.50" width="9.33" height="9.46" fill="#5273c4"/>
<rect x="267.27" y="119.50" width="9.33" height="9.46" fill="#c0d3ec"/>
<rect x="180.00" y="128.36" width="9.33" height="9.46" fill="#e0eaf5"/>
<rect x="188.73" y="128.36" width="9.33" height="9.46" fill="#d6e3f2"/>
<rect x="197.45" y="128.36" width="9.33" height="9.46" fill="#c0d3ec"/>
<rect x="206.18" y="128.36" width="9.33" height="9.46" fill="#eaf1f7"/>
<rect x="214.91" y="128.36" width="9.33" height="9.46" fill="#eaf1f7"/>
<rect x="223.64" y="128.36" width="9.33" height="9.46" fill="#edf2f4"/>
<rect x="232.36" y="128.36" width="9.33" height="9.46" fill="#e8eff6"/>
<rect x="241.09" y="128.36" width="9.33" height="9.46" fill="#c8d9ee"/>
<rect x="249.82" y="128.36" width="9.33" height="9.46" fill="#c8d9ee"/>
<rect x="258.55" y="128.36" width="9.33" height="9.46" fill="#a6bfe3"/>
<rect x="267.27" y="128.36" width="9.33" height="9.46" fill="#e2ecf6"/>
<rect x="180.00" y="137.23" width="9.33" height="9.46" fill="#b0c6e6"/>
<rect x="188.73" y="137.23" width="9.33" height="9.46" fill="#ccdcef"/>
<rect x="197.45" y="137.23" width="9.33" height="9.46" fill="#b0c6e6"/>
<rect x="206.18" y="137.23" width="9.33" height="9.46" fill="#dae5f3"/>
<rect x="214.91" y="137.23" width="9.33" height="9.46" fill="#e3ecf6"/>
<rect x="223.64" y="137.23" width="9.33" height="9.46" fill="#b0c6e6"/>
<rect x="232.36" y="137.23" width="9.33" height="9.46" fill="#edf2f4"/>
<rect x="241.09" y="137.23" width="9.33" height="9.46" fill="#eef3f0"/>
<rect x="249.82" y="137.23" width="9.33" height="9.46" fill="#f0f4e8"/>
<rect x="258.55" y="137.23" width="9.33" height="9.46" fill="#86a5d8"/>
<rect x="267.27" y="137.23" width="9.33" height="9.46" fill="#4a6bc0"/>
<rect x="180.00" y="146.09" width="9.33" height="9.46" fill="#4e70c2"/>
<rect x="188.73" y="146.09" width="9.33" height="9.46" fill="#4e70c2"/>
<rect x="197.45" y="146.09" width="9.33" height="9.46" fill="#cddcef"/>
<rect x="206.18" y="146.09" width="9.33" height="9.46" fill="#98b4e0"/>
<rect x="214.91" y="146.09" width="9.33" height="9.46" fill="#98b4e0"/>
<rect x="223.64" y="146.09" width="9.33" height="9.46" fill="#e8eff6"/>
<rect x="232.36" y="146.09" width="9.33" height="9.46" fill="#4e70c2"/>
<rect x="241.09" y="146.09" width="9.33" height="9.46" fill="#7090d0"/>
<rect x="249.82" y="146.09" width="9.33" height="9.46" fill="#f3f4e2"/>
<rect x="258.55" y="146.09" width="9.33" height="9.46" fill="#4e70c2"/>
<rect x="267.27" y="146.09" width="9.33" height="9.46" fill="#4e70c2"/>
<rect x="180.00" y="154.95" width="9.33" height="9.46" fill="#4a6bc0"/>
<rect x="188.73" y="154.95" width="9.33" height="9.46" fill="#4a6bc0"/>
<rect x="197.45" y="154.95" width="9.33" height="9.46" fill="#4a6bc0"/>
<rect x="206.18" y="154.95" width="9.33" height="9.46" fill="#4a6bc0"/>
<rect x="214.91" y="154.95" width="9.33" height="9.46" fill="#4a6bc0"/>
<rect x="223.64" y="154.95" width="9.33" height="9.46" fill="#4a6bc0"/>
<rect x="232.36" y="154.95" width="9.33" height="9.46" fill="#4a6bc0"/>
<rect x="241.09" y="154.95" width="9.33" height="9.46" fill="#4a6bc0"/>
<rect x="249.82" y="154.95" width="9.33" height="9.46" fill="#4a6bc0"/>
<rect x="258.55" y="154.95" width="9.33" height="9.46" fill="#4a6bc0"/>
<rect x="267.27" y="154.95" width="9.33" height="9.46" fill="#4a6bc0"/>
<rect x="180.00" y="163.82" width="9.33" height="9.46" fill="#f3f4e2"/>
<rect x="188.73" y="163.82" width="9.33" height="9.46" fill="#eef3f0"/>
<rect x="197.45" y="163.82" width="9.33" height="9.46" fill="#f3f4e2"/>
<rect x="206.18" y="163.82" width="9.33" height="9.46" fill="#fbf1c8"/>
<rect x="214.91" y="163.82" width="9.33" height="9.46" fill="#dce7f4"/>
<rect x="223.64" y="163.82" width="9.33" height="9.46" fill="#f3f4e2"/>
<rect x="232.36" y="163.82" width="9.33" height="9.46" fill="#eef3f0"/>
<rect x="241.09" y="163.82" width="9.33" height="9.46" fill="#f3f4e2"/>
<rect x="249.82" y="163.82" width="9.33" height="9.46" fill="#f0f4e8"/>
<rect x="258.55" y="163.82" width="9.33" height="9.46" fill="#c0d3ec"/>
<rect x="267.27" y="163.82" width="9.33" height="9.46" fill="#f3f4e2"/>
<rect x="180.00" y="172.68" width="9.33" height="9.46" fill="#faecb0"/>
<rect x="188.73" y="172.68" width="9.33" height="9.46" fill="#faf0c4"/>
<rect x="197.45" y="172.68" width="9.33" height="9.46" fill="#faf0c4"/>
<rect x="206.18" y="172.68" width="9.33" height="9.46" fill="#fbf0c0"/>
<rect x="214.91" y="172.68" width="9.33" height="9.46" fill="#faf2cc"/>
<rect x="223.64" y="172.68" width="9.33" height="9.46" fill="#faf2cc"/>
<rect x="232.36" y="172.68" width="9.33" height="9.46" fill="#faf0c4"/>
<rect x="241.09" y="172.68" width="9.33" height="9.46" fill="#faf0c4"/>
<rect x="249.82" y="172.68" width="9.33" height="9.46" fill="#f9e8a8"/>
<rect x="258.55" y="172.68" width="9.33" height="9.46" fill="#f5f4e0"/>
<rect x="267.27" y="172.68" width="9.33" height="9.46" fill="#f5f4e0"/>
<rect x="180.00" y="181.55" width="9.33" height="9.46" fill="#faf0c4"/>
<rect x="188.73" y="181.55" width="9.33" height="9.46" fill="#faf0c4"/>
<rect x="197.45" y="181.55" width="9.33" height="9.46" fill="#f3f4e2"/>
<rect x="206.18" y="181.55" width="9.33" height="9.46" fill="#faf0c4"/>
<rect x="214.91" y="181.55" width="9.33" height="9.46" fill="#faf0c4"/>
<rect x="223.64" y="181.55" width="9.33" height="9.46" fill="#faf0c4"/>
<rect x="232.36" y="181.55" width="9.33" height="9.46" fill="#faedb8"/>
<rect x="241.09" y="181.55" width="9.33" height="9.46" fill="#faf0c4"/>
<rect x="249.82" y="181.55" width="9.33" height="9.46" fill="#f7e09a"/>
<rect x="258.55" y="181.55" width="9.33" height="9.46" fill="#f5f4e0"/>
<rect x="267.27" y="181.55" width="9.33" height="9.46" fill="#f7f3dc"/>
<rect x="180.00" y="190.41" width="9.33" height="9.46" fill="#faf0c4"/>
<rect x="188.73" y="190.41" width="9.33" height="9.46" fill="#f5f4e0"/>
<rect x="197.45" y="190.41" width="9.33" height="9.46" fill="#f9e8a8"/>
<rect x="206.18" y="190.41" width="9.33" height="9.46" fill="#faf2cc"/>
<rect x="214.91" y="190.41" width="9.33" height="9.46" fill="#f9f3d4"/>
<rect x="223.64" y="190.41" width="9.33" height="9.46" fill="#faf0c4"/>
<rect x="232.36" y="190.41" width="9.33" height="9.46" fill="#faf0c4"/>
<rect x="241.09" y="190.41" width="9.33" height="9.46" fill="#f5f4e0"/>
<rect x="249.82" y="190.41" width="9.33" height="9.46" fill="#f9e8a8"/>
<rect x="258.55" y="190.41" width="9.33" height="9.46" fill="#f5f4e0"/>
<rect x="267.27" y="190.41" width="9.33" height="9.46" fill="#f5f4e0"/>
<rect x="180.00" y="199.27" width="9.33" height="9.46" fill="#faf0c4"/>
<rect x="188.73" y="199.27" width="9.33" height="9.46" fill="#faedb8"/>
<rect x="197.45" y="199.27" width="9.33" height="9.46" fill="#faedb8"/>
<rect x="206.18" y="199.27" width="9.33" height="9.46" fill="#faf0c4"/>
<rect x="214.91" y="199.27" width="9.33" height="9.46" fill="#f9e9ac"/>
<rect x="223.64" y="199.27" width="9.33" height="9.46" fill="#faf0c4"/>
<rect x="232.36" y="199.27" width="9.33" height="9.46" fill="#faf0c4"/>
<rect x="241.09" y="199.27" width="9.33" height="9.46" fill="#f9e9ac"/>
<rect x="249.82" y="199.27" width="9.33" height="9.46" fill="#f5d890"/>
<rect x="258.55" y="199.27" width="9.33" height="9.46" fill="#f5f4e0"/>
<rect x="267.27" y="199.27" width="9.33" height="9.46" fill="#f5f4e0"/>
<rect x="180.00" y="208.14" width="9.33" height="9.46" fill="#e9a466"/>
<rect x="188.73" y="208.14" width="9.33" height="9.46" fill="#ebaa6a"/>
<rect x="197.45" y="208.14" width="9.33" height="9.46" fill="#f6da92"/>
<rect x="206.18" y="208.14" width="9.33" height="9.46" fill="#e28c58"/>
<rect x="214.91" y="208.14" width="9.33" height="9.46" fill="#e08856"/>
<rect x="223.64" y="208.14" width="9.33" height="9.46" fill="#e08856"/>
<rect x="232.36" y="208.14" width="9.33" height="9.46" fill="#ebaa6a"/>
<rect x="241.09" y="208.14" width="9.33" height="9.46" fill="#e08856"/>
<rect x="249.82" y="208.14" width="9.33" height="9.46" fill="#c02a1e"/>
<rect x="258.55" y="208.14" width="9.33" height="9.46" fill="#e28c58"/>
<rect x="267.27" y="208.14" width="9.33" height="9.46" fill="#e49860"/>
<rect x="179.50" y="21.50" width="97.00" height="196.00" fill="none" stroke="#1a1a1a" stroke-width="1"/>
<line x1="277.00" y1="26.43" x2="279.80" y2="26.43" stroke="#222" stroke-width="1"/>
<text x="282.80" y="26.68" font-size="4.9" text-anchor="start" fill="#2a2a2a" textLength="12.14" lengthAdjust="spacingAndGlyphs" dominant-baseline="central">serine</text>
<line x1="277.00" y1="35.30" x2="279.80" y2="35.30" stroke="#222" stroke-width="1"/>
<text x="282.80" y="35.55" font-size="4.9" text-anchor="start" fill="#2a2a2a" textLength="14.13" lengthAdjust="spacingAndGlyphs" dominant-baseline="central">leucine</text>
<line x1="277.00" y1="44.16" x2="279.80" y2="44.16" stroke="#222" stroke-width="1"/>
<text x="282.80" y="44.41" font-size="4.9" text-anchor="start" fill="#2a2a2a" textLength="18.59" lengthAdjust="spacingAndGlyphs" dominant-baseline="central">threonine</text>
<line x1="277.00" y1="53.02" x2="279.80" y2="53.02" stroke="#222" stroke-width="1"/>
<text x="282.80" y="53.27" font-size="4.9" text-anchor="start" fill="#2a2a2a" textLength="17.10" lengthAdjust="spacingAndGlyphs" dominant-baseline="central">ornithine</text>
<line x1="277.00" y1="61.89" x2="279.80" y2="61.89" stroke="#222" stroke-width="1"/>
<text x="282.80" y="62.14" font-size="4.9" text-anchor="start" fill="#2a2a2a" textLength="13.63" lengthAdjust="spacingAndGlyphs" dominant-baseline="central">taurine</text>
<line x1="277.00" y1="70.75" x2="279.80" y2="70.75" stroke="#222" stroke-width="1"/>
<text x="282.80" y="71.00" font-size="4.9" text-anchor="start" fill="#2a2a2a" textLength="19.33" lengthAdjust="spacingAndGlyphs" dominant-baseline="central">glutamine</text>
<line x1="277.00" y1="79.61" x2="279.80" y2="79.61" stroke="#222" stroke-width="1"/>
<text x="282.80" y="79.86" font-size="4.9" text-anchor="start" fill="#2a2a2a" textLength="13.38" lengthAdjust="spacingAndGlyphs" dominant-baseline="central">proline</text>
<line x1="277.00" y1="88.48" x2="279.80" y2="88.48" stroke="#222" stroke-width="1"/>
<text x="282.80" y="88.73" font-size="4.9" text-anchor="start" fill="#2a2a2a" textLength="11.40" lengthAdjust="spacingAndGlyphs" dominant-baseline="central">lysine</text>
<line x1="277.00" y1="97.34" x2="279.80" y2="97.34" stroke="#222" stroke-width="1"/>
<text x="282.80" y="97.59" font-size="4.9" text-anchor="start" fill="#2a2a2a" textLength="11.65" lengthAdjust="spacingAndGlyphs" dominant-baseline="central">valine</text>
<line x1="277.00" y1="106.20" x2="279.80" y2="106.20" stroke="#222" stroke-width="1"/>
<text x="282.80" y="106.45" font-size="4.9" text-anchor="start" fill="#2a2a2a" textLength="13.88" lengthAdjust="spacingAndGlyphs" dominant-baseline="central">glycine</text>
<line x1="277.00" y1="115.07" x2="279.80" y2="115.07" stroke="#222" stroke-width="1"/>
<text x="282.80" y="115.32" font-size="4.9" text-anchor="start" fill="#2a2a2a" textLength="14.38" lengthAdjust="spacingAndGlyphs" dominant-baseline="central">alanine</text>
<line x1="277.00" y1="123.93" x2="279.80" y2="123.93" stroke="#222" stroke-width="1"/>
<text x="282.80" y="124.18" font-size="4.9" text-anchor="start" fill="#2a2a2a" textLength="16.35" lengthAdjust="spacingAndGlyphs" dominant-baseline="central">citrulline</text>
<line x1="277.00" y1="132.80" x2="279.80" y2="132.80" stroke="#222" stroke-width="1"/>
<text x="282.80" y="133.05" font-size="4.9" text-anchor="start" fill="#2a2a2a" textLength="25.03" lengthAdjust="spacingAndGlyphs" dominant-baseline="central">aspartic acid</text>
<line x1="277.00" y1="141.66" x2="279.80" y2="141.66" stroke="#222" stroke-width="1"/>
<text x="282.80" y="141.91" font-size="4.9" text-anchor="start" fill="#2a2a2a" textLength="38.40" lengthAdjust="spacingAndGlyphs" dominant-baseline="central">α-amino-n-butyric</text>
<line x1="277.00" y1="150.52" x2="279.80" y2="150.52" stroke="#222" stroke-width="1"/>
<text x="282.80" y="150.77" font-size="4.9" text-anchor="start" fill="#2a2a2a" textLength="21.81" lengthAdjust="spacingAndGlyphs" dominant-baseline="central">methionine</text>
<line x1="277.00" y1="159.39" x2="279.80" y2="159.39" stroke="#222" stroke-width="1"/>
<text x="282.80" y="159.64" font-size="4.9" text-anchor="start" fill="#2a2a2a" textLength="13.88" lengthAdjust="spacingAndGlyphs" dominant-baseline="central">cystine</text>
<line x1="277.00" y1="168.25" x2="279.80" y2="168.25" stroke="#222" stroke-width="1"/>
<text x="282.80" y="168.50" font-size="4.9" text-anchor="start" fill="#2a2a2a" textLength="15.86" lengthAdjust="spacingAndGlyphs" dominant-baseline="central">arginine</text>
<line x1="277.00" y1="177.11" x2="279.80" y2="177.11" stroke="#222" stroke-width="1"/>
<text x="282.80" y="177.36" font-size="4.9" text-anchor="start" fill="#2a2a2a" textLength="27.52" lengthAdjust="spacingAndGlyphs" dominant-baseline="central">phenylalanine</text>
<line x1="277.00" y1="185.98" x2="279.80" y2="185.98" stroke="#222" stroke-width="1"/>
<text x="282.80" y="186.23" font-size="4.9" text-anchor="start" fill="#2a2a2a" textLength="16.36" lengthAdjust="spacingAndGlyphs" dominant-baseline="central">histidine</text>
<line x1="277.00" y1="194.84" x2="279.80" y2="194.84" stroke="#222" stroke-width="1"/>
<text x="282.80" y="195.09" font-size="4.9" text-anchor="start" fill="#2a2a2a" textLength="15.61" lengthAdjust="spacingAndGlyphs" dominant-baseline="central">tyrosine</text>
<line x1="277.00" y1="203.70" x2="279.80" y2="203.70" stroke="#222" stroke-width="1"/>
<text x="282.80" y="203.95" font-size="4.9" text-anchor="start" fill="#2a2a2a" textLength="19.83" lengthAdjust="spacingAndGlyphs" dominant-baseline="central">isoleucine</text>
<line x1="277.00" y1="212.57" x2="279.80" y2="212.57" stroke="#222" stroke-width="1"/>
<text x="282.80" y="212.82" font-size="4.9" text-anchor="start" fill="#2a2a2a" textLength="26.02" lengthAdjust="spacingAndGlyphs" dominant-baseline="central">glutamic acid</text>
<line x1="184.36" y1="218.00" x2="184.36" y2="220.40" stroke="#222" stroke-width="1"/>
<text x="185.76" y="224.60" font-size="4.9" text-anchor="end" fill="#2a2a2a" transform="rotate(-45 185.76 224.60)" dominant-baseline="central">P1</text>
<line x1="193.09" y1="218.00" x2="193.09" y2="220.40" stroke="#222" stroke-width="1"/>
<text x="194.49" y="224.60" font-size="4.9" text-anchor="end" fill="#2a2a2a" transform="rotate(-45 194.49 224.60)" dominant-baseline="central">P2</text>
<line x1="201.82" y1="218.00" x2="201.82" y2="220.40" stroke="#222" stroke-width="1"/>
<text x="203.22" y="224.60" font-size="4.9" text-anchor="end" fill="#2a2a2a" transform="rotate(-45 203.22 224.60)" dominant-baseline="central">P3</text>
<line x1="210.55" y1="218.00" x2="210.55" y2="220.40" stroke="#222" stroke-width="1"/>
<text x="211.95" y="224.60" font-size="4.9" text-anchor="end" fill="#2a2a2a" transform="rotate(-45 211.95 224.60)" dominant-baseline="central">P4</text>
<line x1="219.27" y1="218.00" x2="219.27" y2="220.40" stroke="#222" stroke-width="1"/>
<text x="220.67" y="224.60" font-size="4.9" text-anchor="end" fill="#2a2a2a" transform="rotate(-45 220.67 224.60)" dominant-baseline="central">P5</text>
<line x1="228.00" y1="218.00" x2="228.00" y2="220.40" stroke="#222" stroke-width="1"/>
<text x="229.40" y="224.60" font-size="4.9" text-anchor="end" fill="#2a2a2a" transform="rotate(-45 229.40 224.60)" dominant-baseline="central">P6</text>
<line x1="236.73" y1="218.00" x2="236.73" y2="220.40" stroke="#222" stroke-width="1"/>
<text x="238.13" y="224.60" font-size="4.9" text-anchor="end" fill="#2a2a2a" transform="rotate(-45 238.13 224.60)" dominant-baseline="central">P7</text>
<line x1="245.45" y1="218.00" x2="245.45" y2="220.40" stroke="#222" stroke-width="1"/>
<text x="246.85" y="224.60" font-size="4.9" text-anchor="end" fill="#2a2a2a" transform="rotate(-45 246.85 224.60)" dominant-baseline="central">P8</text>
<line x1="254.18" y1="218.00" x2="254.18" y2="220.40" stroke="#222" stroke-width="1"/>
<text x="255.58" y="224.60" font-size="4.9" text-anchor="end" fill="#2a2a2a" transform="rotate(-45 255.58 224.60)" dominant-baseline="central">P9</text>
<line x1="262.91" y1="218.00" x2="262.91" y2="220.40" stroke="#222" stroke-width="1"/>
<text x="264.31" y="224.60" font-size="4.9" text-anchor="end" fill="#2a2a2a" transform="rotate(-45 264.31 224.60)" dominant-baseline="central">P10</text>
<line x1="271.64" y1="218.00" x2="271.64" y2="220.40" stroke="#222" stroke-width="1"/>
<text x="273.04" y="224.60" font-size="4.9" text-anchor="end" fill="#2a2a2a" transform="rotate(-45 273.04 224.60)" dominant-baseline="central">P11</text>
<text x="237.50" y="235.10" font-size="6.1" text-anchor="middle" fill="#1c1c1c" textLength="56.40" lengthAdjust="spacingAndGlyphs" stroke="#1c1c1c" stroke-width="0.07" dominant-baseline="central">Patients (neuroblastoma)</text>
<text x="173.10" y="119.80" font-size="6.9" text-anchor="middle" fill="#1c1c1c" textLength="16.00" lengthAdjust="spacingAndGlyphs" transform="rotate(-90 173.10 119.80)" stroke="#1c1c1c" stroke-width="0.07" dominant-baseline="central">utyric</text>
<text x="301.20" y="18.70" font-size="5.28" text-anchor="start" fill="#1c1c1c" textLength="37.30" lengthAdjust="spacingAndGlyphs" stroke="#1c1c1c" stroke-width="0.07" dominant-baseline="central">Concentration (µM)</text>
<defs><linearGradient id="cb" x1="0" y1="0" x2="0" y2="1"><stop offset="0" stop-color="#d7191c"/><stop offset="0.22" stop-color="#f46d43"/><stop offset="0.42" stop-color="#fdd66a"/><stop offset="0.58" stop-color="#ffffbf"/><stop offset="0.75" stop-color="#abd0e6"/><stop offset="1" stop-color="#2c5aa8"/></linearGradient></defs>
<rect x="305.80" y="24.60" width="3.80" height="22.00" fill="url(#cb)"/>
<text x="312.60" y="29.40" font-size="4.3" text-anchor="start" fill="#1c1c1c" textLength="6.60" lengthAdjust="spacingAndGlyphs" stroke="#1c1c1c" stroke-width="0.07" dominant-baseline="central">300</text>
<text x="312.60" y="34.00" font-size="4.3" text-anchor="start" fill="#1c1c1c" textLength="6.60" lengthAdjust="spacingAndGlyphs" stroke="#1c1c1c" stroke-width="0.07" dominant-baseline="central">100</text>
<text x="312.60" y="38.70" font-size="4.3" text-anchor="start" fill="#1c1c1c" textLength="4.40" lengthAdjust="spacingAndGlyphs" stroke="#1c1c1c" stroke-width="0.07" dominant-baseline="central">30</text>
<text x="312.60" y="43.30" font-size="4.3" text-anchor="start" fill="#1c1c1c" textLength="4.40" lengthAdjust="spacingAndGlyphs" stroke="#1c1c1c" stroke-width="0.07" dominant-baseline="central">10</text>
<text transform="translate(344.6 17.1) scale(1.0 1)" font-size="12" font-weight="bold" fill="#000" stroke="#000" stroke-width="0.45">C</text>
<rect x="386.30" y="51.20" width="12.70" height="4.00" fill="#f2b71f"/>
<text x="401.90" y="53.20" font-size="5.83" text-anchor="start" fill="#151515" textLength="46.00" lengthAdjust="spacingAndGlyphs" stroke="#151515" stroke-width="0.07" dominant-baseline="central">Mixed solid cancer</text>
<rect x="457.60" y="51.20" width="10.40" height="4.00" fill="#b5121b"/>
<text x="469.80" y="53.20" font-size="5.83" text-anchor="start" fill="#151515" textLength="37.20" lengthAdjust="spacingAndGlyphs" stroke="#151515" stroke-width="0.07" dominant-baseline="central">Neuroblastoma</text>
<line x1="402.00" y1="66.30" x2="492.20" y2="66.30" stroke="#222" stroke-width="1.0"/>
<line x1="402.00" y1="65.50" x2="402.00" y2="67.10" stroke="#222" stroke-width="0.9"/>
<line x1="492.20" y1="65.50" x2="492.20" y2="67.10" stroke="#222" stroke-width="0.9"/>
<text x="447.00" y="61.50" font-size="5.28" text-anchor="middle" fill="#151515" textLength="23.00" lengthAdjust="spacingAndGlyphs" stroke="#151515" stroke-width="0.07" dominant-baseline="central">p&lt;0.0001</text>
<line x1="402.00" y1="75.30" x2="450.00" y2="75.30" stroke="#222" stroke-width="1.0"/>
<line x1="402.00" y1="74.50" x2="402.00" y2="76.10" stroke="#222" stroke-width="0.9"/>
<line x1="450.00" y1="74.50" x2="450.00" y2="76.10" stroke="#222" stroke-width="0.9"/>
<text x="425.70" y="71.30" font-size="5.28" text-anchor="middle" fill="#151515" textLength="23.00" lengthAdjust="spacingAndGlyphs" stroke="#151515" stroke-width="0.07" dominant-baseline="central">p&lt;0.0001</text>
<line x1="380.50" y1="69.40" x2="380.50" y2="163.60" stroke="#111" stroke-width="1"/>
<line x1="380.00" y1="163.30" x2="512.60" y2="163.30" stroke="#111" stroke-width="1"/>
<line x1="377.00" y1="72.00" x2="380.50" y2="72.00" stroke="#111" stroke-width="0.9"/>
<text x="374.40" y="72.00" font-size="6.2" text-anchor="end" fill="#151515" textLength="8.90" lengthAdjust="spacingAndGlyphs" stroke="#151515" stroke-width="0.07" dominant-baseline="central">250</text>
<line x1="377.00" y1="90.20" x2="380.50" y2="90.20" stroke="#111" stroke-width="0.9"/>
<text x="374.40" y="90.20" font-size="6.2" text-anchor="end" fill="#151515" textLength="8.90" lengthAdjust="spacingAndGlyphs" stroke="#151515" stroke-width="0.07" dominant-baseline="central">200</text>
<line x1="377.00" y1="108.30" x2="380.50" y2="108.30" stroke="#111" stroke-width="0.9"/>
<text x="374.40" y="108.30" font-size="6.2" text-anchor="end" fill="#151515" textLength="8.90" lengthAdjust="spacingAndGlyphs" stroke="#151515" stroke-width="0.07" dominant-baseline="central">150</text>
<line x1="377.00" y1="126.50" x2="380.50" y2="126.50" stroke="#111" stroke-width="0.9"/>
<text x="374.40" y="126.50" font-size="6.2" text-anchor="end" fill="#151515" textLength="8.90" lengthAdjust="spacingAndGlyphs" stroke="#151515" stroke-width="0.07" dominant-baseline="central">100</text>
<line x1="377.00" y1="144.60" x2="380.50" y2="144.60" stroke="#111" stroke-width="0.9"/>
<text x="374.40" y="144.60" font-size="6.2" text-anchor="end" fill="#151515" textLength="5.90" lengthAdjust="spacingAndGlyphs" stroke="#151515" stroke-width="0.07" dominant-baseline="central">50</text>
<line x1="377.00" y1="162.80" x2="380.50" y2="162.80" stroke="#111" stroke-width="0.9"/>
<text x="374.40" y="162.80" font-size="6.2" text-anchor="end" fill="#151515" stroke="#151515" stroke-width="0.07" dominant-baseline="central">0</text>
<text x="357.80" y="116.00" font-size="6.4" text-anchor="middle" fill="#1c1c1c" textLength="47.00" lengthAdjust="spacingAndGlyphs" transform="rotate(-90 357.80 116.00)" stroke="#1c1c1c" stroke-width="0.07" dominant-baseline="central">Arginine [µmol/l]</text>
<line x1="402.30" y1="163.30" x2="402.30" y2="166.20" stroke="#111" stroke-width="0.9"/>
<line x1="446.50" y1="163.30" x2="446.50" y2="166.20" stroke="#111" stroke-width="0.9"/>
<line x1="490.70" y1="163.30" x2="490.70" y2="166.20" stroke="#111" stroke-width="0.9"/>
<text x="399.60" y="172.40" font-size="5.83" text-anchor="middle" fill="#151515" textLength="37.00" lengthAdjust="spacingAndGlyphs" stroke="#151515" stroke-width="0.07" dominant-baseline="central">Healthy Donors</text>
<text x="445.00" y="172.40" font-size="5.83" text-anchor="middle" fill="#151515" textLength="44.70" lengthAdjust="spacingAndGlyphs" stroke="#151515" stroke-width="0.07" dominant-baseline="central">Paediatric patients</text>
<text x="490.60" y="172.40" font-size="5.83" text-anchor="middle" fill="#151515" textLength="32.60" lengthAdjust="spacingAndGlyphs" stroke="#151515" stroke-width="0.07" dominant-baseline="central">AML patients</text>
<line x1="383.50" y1="178.40" x2="509.80" y2="178.40" stroke="#222" stroke-width="0.9"/>
<text x="446.80" y="183.90" font-size="5.83" text-anchor="middle" fill="#151515" textLength="51.00" lengthAdjust="spacingAndGlyphs" stroke="#151515" stroke-width="0.07" dominant-baseline="central">Plasma samples from</text>
<rect x="397.40" y="105.00" width="2.60" height="2.60" fill="#234a90"/>
<rect x="399.40" y="106.30" width="2.60" height="2.60" fill="#234a90"/>
<rect x="403.00" y="105.00" width="2.60" height="2.60" fill="#234a90"/>
<rect x="403.00" y="109.10" width="2.60" height="2.60" fill="#234a90"/>
<rect x="397.40" y="113.20" width="2.60" height="2.60" fill="#234a90"/>
<rect x="401.00" y="116.50" width="2.60" height="2.60" fill="#234a90"/>
<rect x="404.60" y="114.90" width="2.60" height="2.60" fill="#234a90"/>
<rect x="399.40" y="125.30" width="2.60" height="2.60" fill="#234a90"/>
<rect x="401.00" y="129.00" width="2.60" height="2.60" fill="#234a90"/>
<rect x="406.40" y="131.70" width="2.60" height="2.60" fill="#234a90"/>
<rect x="395.60" y="132.60" width="2.60" height="2.60" fill="#234a90"/>
<rect x="399.40" y="134.40" width="2.60" height="2.60" fill="#234a90"/>
<rect x="403.00" y="134.40" width="2.60" height="2.60" fill="#234a90"/>
<rect x="397.40" y="138.00" width="2.60" height="2.60" fill="#234a90"/>
<rect x="401.00" y="138.00" width="2.60" height="2.60" fill="#234a90"/>
<rect x="404.70" y="138.00" width="2.60" height="2.60" fill="#234a90"/>
<rect x="403.00" y="139.90" width="2.60" height="2.60" fill="#234a90"/>
<rect x="399.40" y="142.80" width="2.60" height="2.60" fill="#234a90"/>
<rect x="400.90" y="78.50" width="2.60" height="2.60" fill="#234a90"/>
<rect x="400.90" y="84.00" width="2.60" height="2.60" fill="#234a90"/>
<rect x="400.90" y="92.00" width="2.60" height="2.60" fill="#234a90"/>
<rect x="388.20" y="118.00" width="2.60" height="2.60" fill="#234a90"/>
<rect x="390.22" y="119.02" width="2.60" height="2.60" fill="#234a90"/>
<rect x="392.25" y="119.87" width="2.60" height="2.60" fill="#234a90"/>
<rect x="394.27" y="120.56" width="2.60" height="2.60" fill="#234a90"/>
<rect x="396.29" y="121.07" width="2.60" height="2.60" fill="#234a90"/>
<rect x="398.32" y="121.41" width="2.60" height="2.60" fill="#234a90"/>
<rect x="400.34" y="121.58" width="2.60" height="2.60" fill="#234a90"/>
<rect x="402.36" y="121.58" width="2.60" height="2.60" fill="#234a90"/>
<rect x="404.38" y="121.41" width="2.60" height="2.60" fill="#234a90"/>
<rect x="406.41" y="121.07" width="2.60" height="2.60" fill="#234a90"/>
<rect x="408.43" y="120.56" width="2.60" height="2.60" fill="#234a90"/>
<rect x="410.45" y="119.87" width="2.60" height="2.60" fill="#234a90"/>
<rect x="412.48" y="119.02" width="2.60" height="2.60" fill="#234a90"/>
<rect x="414.50" y="118.00" width="2.60" height="2.60" fill="#234a90"/>
<line x1="388.20" y1="123.30" x2="417.10" y2="123.30" stroke="#111" stroke-width="1"/>
<line x1="432.10" y1="153.80" x2="461.20" y2="153.80" stroke="#333" stroke-width="1.2"/>
<circle cx="448.50" cy="137.80" r="1.35" fill="#f2b705" stroke="#111" stroke-width="0.55"/>
<circle cx="443.00" cy="139.80" r="1.35" fill="#f2b705" stroke="#111" stroke-width="0.55"/>
<circle cx="448.50" cy="145.90" r="1.35" fill="#f2b705" stroke="#111" stroke-width="0.55"/>
<circle cx="453.80" cy="151.80" r="1.35" fill="#f2b705" stroke="#111" stroke-width="0.55"/>
<circle cx="433.10" cy="157.30" r="1.35" fill="#f2b705" stroke="#111" stroke-width="0.55"/>
<circle cx="435.56" cy="158.23" r="1.35" fill="#f2b705" stroke="#111" stroke-width="0.55"/>
<circle cx="438.03" cy="158.97" r="1.35" fill="#f2b705" stroke="#111" stroke-width="0.55"/>
<circle cx="440.49" cy="159.52" r="1.35" fill="#f2b705" stroke="#111" stroke-width="0.55"/>
<circle cx="442.95" cy="159.89" r="1.35" fill="#f2b705" stroke="#111" stroke-width="0.55"/>
<circle cx="445.42" cy="160.08" r="1.35" fill="#f2b705" stroke="#111" stroke-width="0.55"/>
<circle cx="447.88" cy="160.08" r="1.35" fill="#f2b705" stroke="#111" stroke-width="0.55"/>
<circle cx="450.35" cy="159.89" r="1.35" fill="#f2b705" stroke="#111" stroke-width="0.55"/>
<circle cx="452.81" cy="159.52" r="1.35" fill="#f2b705" stroke="#111" stroke-width="0.55"/>
<circle cx="455.27" cy="158.97" r="1.35" fill="#f2b705" stroke="#111" stroke-width="0.55"/>
<circle cx="457.74" cy="158.23" r="1.35" fill="#f2b705" stroke="#111" stroke-width="0.55"/>
<circle cx="460.20" cy="157.30" r="1.35" fill="#f2b705" stroke="#111" stroke-width="0.55"/>
<circle cx="446.50" cy="120.20" r="1.45" fill="#b0101e" stroke="#111" stroke-width="0.55"/>
<circle cx="441.20" cy="134.80" r="1.45" fill="#b0101e" stroke="#111" stroke-width="0.55"/>
<circle cx="444.70" cy="136.10" r="1.45" fill="#b0101e" stroke="#111" stroke-width="0.55"/>
<circle cx="452.10" cy="135.10" r="1.45" fill="#b0101e" stroke="#111" stroke-width="0.55"/>
<circle cx="450.30" cy="140.90" r="1.45" fill="#b0101e" stroke="#111" stroke-width="0.55"/>
<circle cx="446.50" cy="142.60" r="1.45" fill="#b0101e" stroke="#111" stroke-width="0.55"/>
<circle cx="444.70" cy="144.40" r="1.45" fill="#b0101e" stroke="#111" stroke-width="0.55"/>
<circle cx="439.40" cy="147.20" r="1.45" fill="#b0101e" stroke="#111" stroke-width="0.55"/>
<circle cx="443.00" cy="148.60" r="1.45" fill="#b0101e" stroke="#111" stroke-width="0.55"/>
<circle cx="446.50" cy="149.40" r="1.45" fill="#b0101e" stroke="#111" stroke-width="0.55"/>
<circle cx="450.10" cy="149.40" r="1.45" fill="#b0101e" stroke="#111" stroke-width="0.55"/>
<circle cx="455.40" cy="148.40" r="1.45" fill="#b0101e" stroke="#111" stroke-width="0.55"/>
<circle cx="439.40" cy="153.00" r="1.45" fill="#b0101e" stroke="#111" stroke-width="0.55"/>
<circle cx="443.00" cy="153.50" r="1.45" fill="#b0101e" stroke="#111" stroke-width="0.55"/>
<circle cx="446.50" cy="154.50" r="1.45" fill="#b0101e" stroke="#111" stroke-width="0.55"/>
<circle cx="450.10" cy="153.00" r="1.45" fill="#b0101e" stroke="#111" stroke-width="0.55"/>
<line x1="476.60" y1="144.90" x2="505.40" y2="144.90" stroke="#333" stroke-width="1.2"/>
<path d="M490.70,115.20 L492.40,118.30 L489.00,118.30 Z" fill="#2d5e1c" stroke="#111" stroke-width="0.5"/>
<path d="M490.70,119.30 L492.40,122.40 L489.00,122.40 Z" fill="#2d5e1c" stroke="#111" stroke-width="0.5"/>
<path d="M488.70,123.30 L490.40,126.40 L487.00,126.40 Z" fill="#2d5e1c" stroke="#111" stroke-width="0.5"/>
<path d="M492.70,125.10 L494.40,128.20 L491.00,128.20 Z" fill="#2d5e1c" stroke="#111" stroke-width="0.5"/>
<path d="M487.20,130.40 L488.90,133.50 L485.50,133.50 Z" fill="#2d5e1c" stroke="#111" stroke-width="0.5"/>
<path d="M490.70,131.90 L492.40,135.00 L489.00,135.00 Z" fill="#2d5e1c" stroke="#111" stroke-width="0.5"/>
<path d="M494.20,130.60 L495.90,133.70 L492.50,133.70 Z" fill="#2d5e1c" stroke="#111" stroke-width="0.5"/>
<path d="M485.20,134.90 L486.90,138.00 L483.50,138.00 Z" fill="#2d5e1c" stroke="#111" stroke-width="0.5"/>
<path d="M488.70,135.60 L490.40,138.70 L487.00,138.70 Z" fill="#2d5e1c" stroke="#111" stroke-width="0.5"/>
<path d="M492.70,136.90 L494.40,140.00 L491.00,140.00 Z" fill="#2d5e1c" stroke="#111" stroke-width="0.5"/>
<path d="M496.30,135.20 L498.00,138.30 L494.60,138.30 Z" fill="#2d5e1c" stroke="#111" stroke-width="0.5"/>
<path d="M499.80,137.20 L501.50,140.30 L498.10,140.30 Z" fill="#2d5e1c" stroke="#111" stroke-width="0.5"/>
<path d="M481.60,138.70 L483.30,141.80 L479.90,141.80 Z" fill="#2d5e1c" stroke="#111" stroke-width="0.5"/>
<path d="M485.20,140.50 L486.90,143.60 L483.50,143.60 Z" fill="#2d5e1c" stroke="#111" stroke-width="0.5"/>
<path d="M488.70,141.00 L490.40,144.10 L487.00,144.10 Z" fill="#2d5e1c" stroke="#111" stroke-width="0.5"/>
<path d="M492.70,141.30 L494.40,144.40 L491.00,144.40 Z" fill="#2d5e1c" stroke="#111" stroke-width="0.5"/>
<path d="M496.30,139.50 L498.00,142.60 L494.60,142.60 Z" fill="#2d5e1c" stroke="#111" stroke-width="0.5"/>
<path d="M478.10,145.50 L479.80,148.60 L476.40,148.60 Z" fill="#2d5e1c" stroke="#111" stroke-width="0.5"/>
<path d="M481.60,147.00 L483.30,150.10 L479.90,150.10 Z" fill="#2d5e1c" stroke="#111" stroke-width="0.5"/>
<path d="M485.20,148.00 L486.90,151.10 L483.50,151.10 Z" fill="#2d5e1c" stroke="#111" stroke-width="0.5"/>
<path d="M488.70,144.00 L490.40,147.10 L487.00,147.10 Z" fill="#2d5e1c" stroke="#111" stroke-width="0.5"/>
<path d="M492.70,144.50 L494.40,147.60 L491.00,147.60 Z" fill="#2d5e1c" stroke="#111" stroke-width="0.5"/>
<path d="M487.20,150.10 L488.90,153.20 L485.50,153.20 Z" fill="#2d5e1c" stroke="#111" stroke-width="0.5"/>
<path d="M490.70,149.10 L492.40,152.20 L489.00,152.20 Z" fill="#2d5e1c" stroke="#111" stroke-width="0.5"/>
<path d="M494.20,150.10 L495.90,153.20 L492.50,153.20 Z" fill="#2d5e1c" stroke="#111" stroke-width="0.5"/>
<path d="M496.30,148.60 L498.00,151.70 L494.60,151.70 Z" fill="#2d5e1c" stroke="#111" stroke-width="0.5"/>
<path d="M499.80,147.00 L501.50,150.10 L498.10,150.10 Z" fill="#2d5e1c" stroke="#111" stroke-width="0.5"/>
<path d="M503.30,147.00 L505.00,150.10 L501.60,150.10 Z" fill="#2d5e1c" stroke="#111" stroke-width="0.5"/>
<path d="M487.20,154.60 L488.90,157.70 L485.50,157.70 Z" fill="#2d5e1c" stroke="#111" stroke-width="0.5"/>
<path d="M490.70,152.60 L492.40,155.70 L489.00,155.70 Z" fill="#2d5e1c" stroke="#111" stroke-width="0.5"/>
<path d="M494.20,154.60 L495.90,157.70 L492.50,157.70 Z" fill="#2d5e1c" stroke="#111" stroke-width="0.5"/>
<path d="M490.70,157.60 L492.40,160.70 L489.00,160.70 Z" fill="#2d5e1c" stroke="#111" stroke-width="0.5"/>
<text transform="translate(276.4 255.8) scale(0.98 1)" font-size="12" font-weight="bold" fill="#000" stroke="#000" stroke-width="0.45">D</text>
<line x1="285.4" y1="258.8" x2="355.6" y2="258.8" stroke="#222" stroke-width="1.2" stroke-dasharray="2.3 1.9"/>
<line x1="285.4" y1="341" x2="355.6" y2="341" stroke="#222" stroke-width="1.2" stroke-dasharray="2.5 1.5"/>
<line x1="285.8" y1="261" x2="285.8" y2="341" stroke="#222" stroke-width="1.3" stroke-dasharray="1.5 2.8"/>
<line x1="355.2" y1="261" x2="355.2" y2="341" stroke="#222" stroke-width="1.3" stroke-dasharray="1.5 2.8"/>
<line x1="355" y1="265.2" x2="428.2" y2="265.2" stroke="#222" stroke-width="0.9" stroke-dasharray="2 1.3"/>
<path d="M427.6,264.6 L431.6,264.6 L429.6,270 Z" fill="#111"/>
<line x1="306" y1="268.3" x2="310.4" y2="275.6" stroke="#111" stroke-width="3.2" stroke-linecap="round"/>
<line x1="306" y1="268.3" x2="310.4" y2="275.6" stroke="#e49a88" stroke-width="1.8" stroke-linecap="round"/>
<path d="M310.6,276.8 Q312.5,277.2 313.8,274.2" fill="none" stroke="#111" stroke-width="0.7"/>
<line x1="309.6" y1="266.2" x2="314.2" y2="273.6" stroke="#c0102a" stroke-width="1.8"/>
<path d="M311.2,277.3 L312.7,279 L312.7,296" fill="none" stroke="#2a2a2a" stroke-width="0.9"/>
<path d="M318.6,264.2 Q320.1,264.2 320.1,265.6 L320.1,277.1 Q320.1,278.5 318.6,278.5" fill="none" stroke="#555" stroke-width="0.8"/>
<path d="M318.6,280.3 Q320.1,280.3 320.1,281.7 L320.1,293.8 Q320.1,295.2 318.6,295.2" fill="none" stroke="#555" stroke-width="0.8"/>
<text x="322.50" y="270.40" font-size="5.06" text-anchor="start" fill="#2a2a2a" textLength="22.00" lengthAdjust="spacingAndGlyphs" stroke="#2a2a2a" stroke-width="0.07" dominant-baseline="central">Target scFv</text>
<text x="322.50" y="285.80" font-size="5.06" text-anchor="start" fill="#2a2a2a" textLength="30.80" lengthAdjust="spacingAndGlyphs" stroke="#2a2a2a" stroke-width="0.07" dominant-baseline="central">CH2CH3 spacer</text>
<text x="322.50" y="291.20" font-size="5.06" text-anchor="start" fill="#2a2a2a" textLength="21.50" lengthAdjust="spacingAndGlyphs" stroke="#2a2a2a" stroke-width="0.07" dominant-baseline="central">(GD2 CAR)</text>
<text x="288.90" y="297.40" font-size="5.06" text-anchor="start" fill="#2a2a2a" textLength="21.20" lengthAdjust="spacingAndGlyphs" stroke="#2a2a2a" stroke-width="0.07" dominant-baseline="central">CD8 Hinge</text>
<rect x="311.40" y="295.90" width="2.50" height="4.80" fill="#1e5c3c"/>
<line x1="312.60" y1="300.60" x2="312.60" y2="303.20" stroke="#2a2a2a" stroke-width="0.9"/>
<circle cx="312.5" cy="304.5" r="2.1" fill="#f0a020"/>
<text x="315.70" y="304.50" font-size="5.06" text-anchor="start" fill="#2a2a2a" textLength="10.00" lengthAdjust="spacingAndGlyphs" stroke="#2a2a2a" stroke-width="0.07" dominant-baseline="central">41BB</text>
<line x1="312.60" y1="306.20" x2="312.60" y2="308.00" stroke="#2a2a2a" stroke-width="0.9"/>
<rect x="311.10" y="307.70" width="2.70" height="30.00" fill="#6ab04c"/>
<text x="316.00" y="322.00" font-size="5.06" text-anchor="start" fill="#2a2a2a" textLength="11.00" lengthAdjust="spacingAndGlyphs" stroke="#2a2a2a" stroke-width="0.07" dominant-baseline="central">CD3ζ</text>
<line x1="368.20" y1="280.20" x2="505.80" y2="280.20" stroke="#555" stroke-width="0.8"/>
<rect x="370.4" y="277.60" width="10.5" height="5.2" rx="1.2" fill="#7a7a7a" stroke="#1a1a1a" stroke-width="0.7"/>
<rect x="371.50" y="279.60" width="8.50" height="1.20" fill="#9a9a9a"/>
<path d="M380.90,277.80 L401.80,277.80 L401.80,276.70 L405.60,280.20 L401.80,283.70 L401.80,282.60 L380.90,282.60 Z" fill="#5aa8ee" stroke="#1a1a1a" stroke-width="0.7" stroke-linejoin="miter"/>
<text x="392.10" y="280.30" font-size="4.0" text-anchor="middle" fill="#f4f8ff" textLength="12.50" lengthAdjust="spacingAndGlyphs" stroke="#f4f8ff" stroke-width="0.07" dominant-baseline="central">tCD34</text>
<rect x="405.90" y="277.60" width="2.20" height="5.20" fill="#4a3050" stroke="#111" stroke-width="0.5"/>
<path d="M408.30,277.80 L456.40,277.80 L456.40,276.50 L460.60,280.20 L456.40,283.90 L456.40,282.60 L408.30,282.60 Z" fill="#c4c4c4" stroke="#1a1a1a" stroke-width="0.7" stroke-linejoin="miter"/>
<rect x="409.10" y="279.50" width="47.30" height="1.40" fill="#e2e2e2"/>
<text x="435.80" y="280.30" font-size="4.0" text-anchor="middle" fill="#f4f8ff" textLength="9.20" lengthAdjust="spacingAndGlyphs" stroke="#f4f8ff" stroke-width="0.07" dominant-baseline="central">CAR</text>
<line x1="368.20" y1="290.90" x2="505.80" y2="290.90" stroke="#555" stroke-width="0.8"/>
<rect x="370.4" y="288.30" width="10.5" height="5.2" rx="1.2" fill="#7a7a7a" stroke="#1a1a1a" stroke-width="0.7"/>
<rect x="371.50" y="290.30" width="8.50" height="1.20" fill="#9a9a9a"/>
<path d="M380.90,288.50 L401.80,288.50 L401.80,287.40 L405.60,290.90 L401.80,294.40 L401.80,293.30 L380.90,293.30 Z" fill="#5aa8ee" stroke="#1a1a1a" stroke-width="0.7" stroke-linejoin="miter"/>
<text x="392.10" y="291.00" font-size="4.0" text-anchor="middle" fill="#f4f8ff" textLength="12.50" lengthAdjust="spacingAndGlyphs" stroke="#f4f8ff" stroke-width="0.07" dominant-baseline="central">tCD34</text>
<rect x="405.90" y="288.30" width="2.20" height="5.20" fill="#4a3050" stroke="#111" stroke-width="0.5"/>
<path d="M408.30,288.50 L456.00,288.50 L456.00,287.20 L460.20,290.90 L456.00,294.60 L456.00,293.30 L408.30,293.30 Z" fill="#c4c4c4" stroke="#1a1a1a" stroke-width="0.7" stroke-linejoin="miter"/>
<rect x="409.10" y="290.20" width="46.90" height="1.40" fill="#e2e2e2"/>
<text x="435.80" y="291.00" font-size="4.0" text-anchor="middle" fill="#f4f8ff" textLength="9.20" lengthAdjust="spacingAndGlyphs" stroke="#f4f8ff" stroke-width="0.07" dominant-baseline="central">CAR</text>
<rect x="462.30" y="288.30" width="1.70" height="5.20" fill="#4a3050" stroke="#111" stroke-width="0.5"/>
<path d="M464.60,288.60 L478.50,288.60 L478.50,287.60 L481.90,290.90 L478.50,294.20 L478.50,293.20 L464.60,293.20 Z" fill="#5db043" stroke="#1a1a1a" stroke-width="0.7" stroke-linejoin="miter"/>
<text x="472.50" y="291.00" font-size="4.0" text-anchor="middle" fill="#f4f8ff" textLength="7.70" lengthAdjust="spacingAndGlyphs" stroke="#f4f8ff" stroke-width="0.07" dominant-baseline="central">ASS</text>
<line x1="368.20" y1="302.20" x2="505.80" y2="302.20" stroke="#555" stroke-width="0.8"/>
<rect x="370.4" y="299.60" width="10.5" height="5.2" rx="1.2" fill="#7a7a7a" stroke="#1a1a1a" stroke-width="0.7"/>
<rect x="371.50" y="301.60" width="8.50" height="1.20" fill="#9a9a9a"/>
<path d="M380.90,299.80 L401.80,299.80 L401.80,298.70 L405.60,302.20 L401.80,305.70 L401.80,304.60 L380.90,304.60 Z" fill="#5aa8ee" stroke="#1a1a1a" stroke-width="0.7" stroke-linejoin="miter"/>
<text x="392.10" y="302.30" font-size="4.0" text-anchor="middle" fill="#f4f8ff" textLength="12.50" lengthAdjust="spacingAndGlyphs" stroke="#f4f8ff" stroke-width="0.07" dominant-baseline="central">tCD34</text>
<rect x="405.90" y="299.60" width="2.20" height="5.20" fill="#4a3050" stroke="#111" stroke-width="0.5"/>
<path d="M408.30,299.80 L456.00,299.80 L456.00,298.50 L460.20,302.20 L456.00,305.90 L456.00,304.60 L408.30,304.60 Z" fill="#c4c4c4" stroke="#1a1a1a" stroke-width="0.7" stroke-linejoin="miter"/>
<rect x="409.10" y="301.50" width="46.90" height="1.40" fill="#e2e2e2"/>
<text x="435.80" y="302.30" font-size="4.0" text-anchor="middle" fill="#f4f8ff" textLength="9.20" lengthAdjust="spacingAndGlyphs" stroke="#f4f8ff" stroke-width="0.07" dominant-baseline="central">CAR</text>
<rect x="462.30" y="299.60" width="1.70" height="5.20" fill="#4a3050" stroke="#111" stroke-width="0.5"/>
<path d="M465.40,299.90 L478.20,299.90 L478.20,298.90 L481.60,302.20 L478.20,305.50 L478.20,304.50 L465.40,304.50 Z" fill="#e8921e" stroke="#1a1a1a" stroke-width="0.7" stroke-linejoin="miter"/>
<text x="472.00" y="302.30" font-size="4.0" text-anchor="middle" fill="#f4f8ff" textLength="9.00" lengthAdjust="spacingAndGlyphs" stroke="#f4f8ff" stroke-width="0.07" dominant-baseline="central">OTC</text>
<line x1="368.20" y1="314.20" x2="505.80" y2="314.20" stroke="#555" stroke-width="0.8"/>
<rect x="370.4" y="311.60" width="10.5" height="5.2" rx="1.2" fill="#7a7a7a" stroke="#1a1a1a" stroke-width="0.7"/>
<rect x="371.50" y="313.60" width="8.50" height="1.20" fill="#9a9a9a"/>
<path d="M380.90,311.80 L401.80,311.80 L401.80,310.70 L405.60,314.20 L401.80,317.70 L401.80,316.60 L380.90,316.60 Z" fill="#5aa8ee" stroke="#1a1a1a" stroke-width="0.7" stroke-linejoin="miter"/>
<text x="392.10" y="314.30" font-size="4.0" text-anchor="middle" fill="#f4f8ff" textLength="12.50" lengthAdjust="spacingAndGlyphs" stroke="#f4f8ff" stroke-width="0.07" dominant-baseline="central">tCD34</text>
<rect x="405.90" y="311.60" width="2.20" height="5.20" fill="#4a3050" stroke="#111" stroke-width="0.5"/>
<path d="M408.30,311.80 L456.00,311.80 L456.00,310.50 L460.20,314.20 L456.00,317.90 L456.00,316.60 L408.30,316.60 Z" fill="#c4c4c4" stroke="#1a1a1a" stroke-width="0.7" stroke-linejoin="miter"/>
<rect x="409.10" y="313.50" width="46.90" height="1.40" fill="#e2e2e2"/>
<text x="435.80" y="314.30" font-size="4.0" text-anchor="middle" fill="#f4f8ff" textLength="9.20" lengthAdjust="spacingAndGlyphs" stroke="#f4f8ff" stroke-width="0.07" dominant-baseline="central">CAR</text>
<rect x="462.30" y="311.60" width="1.70" height="5.20" fill="#4a3050" stroke="#111" stroke-width="0.5"/>
<path d="M464.60,311.90 L478.20,311.90 L478.20,310.90 L481.60,314.20 L478.20,317.50 L478.20,316.50 L464.60,316.50 Z" fill="#5db043" stroke="#1a1a1a" stroke-width="0.7" stroke-linejoin="miter"/>
<text x="472.60" y="314.30" font-size="4.0" text-anchor="middle" fill="#f4f8ff" textLength="7.70" lengthAdjust="spacingAndGlyphs" stroke="#f4f8ff" stroke-width="0.07" dominant-baseline="central">ASS</text>
<rect x="482.80" y="311.60" width="1.70" height="5.20" fill="#4a3050" stroke="#111" stroke-width="0.5"/>
<path d="M485.40,311.90 L498.90,311.90 L498.90,310.90 L502.30,314.20 L498.90,317.50 L498.90,316.50 L485.40,316.50 Z" fill="#e8921e" stroke="#1a1a1a" stroke-width="0.7" stroke-linejoin="miter"/>
<text x="492.60" y="314.30" font-size="4.0" text-anchor="middle" fill="#f4f8ff" textLength="9.00" lengthAdjust="spacingAndGlyphs" stroke="#f4f8ff" stroke-width="0.07" dominant-baseline="central">OTC</text>
<line x1="407.00" y1="316.90" x2="407.00" y2="325.80" stroke="#6b3d8f" stroke-width="1"/>
<line x1="463.00" y1="316.90" x2="463.00" y2="325.80" stroke="#d0409a" stroke-width="1"/>
<line x1="483.60" y1="316.90" x2="483.60" y2="325.80" stroke="#d0409a" stroke-width="1"/>
<text x="407.30" y="330.10" font-size="4.73" text-anchor="middle" fill="#2a2a2a" textLength="7.80" lengthAdjust="spacingAndGlyphs" stroke="#2a2a2a" stroke-width="0.07" dominant-baseline="central">F2A</text>
<text x="463.00" y="330.10" font-size="4.73" text-anchor="middle" fill="#2a2a2a" textLength="7.80" lengthAdjust="spacingAndGlyphs" stroke="#2a2a2a" stroke-width="0.07" dominant-baseline="central">F2A</text>
<text x="483.70" y="330.10" font-size="4.73" text-anchor="middle" fill="#2a2a2a" textLength="7.80" lengthAdjust="spacingAndGlyphs" stroke="#2a2a2a" stroke-width="0.07" dominant-baseline="central">F2A</text>
<line x1="367.70" y1="341.10" x2="505.80" y2="341.10" stroke="#4a4a4a" stroke-width="1.7"/>
<text x="362.80" y="341.30" font-size="4.6" text-anchor="start" fill="#2a2a2a" textLength="3.60" lengthAdjust="spacingAndGlyphs" stroke="#2a2a2a" stroke-width="0.07" dominant-baseline="central">5'</text>
<text x="507.60" y="341.30" font-size="4.6" text-anchor="start" fill="#2a2a2a" textLength="3.90" lengthAdjust="spacingAndGlyphs" stroke="#2a2a2a" stroke-width="0.07" dominant-baseline="central">3'</text>
<text transform="translate(7.8 359.2) scale(0.78 1)" font-size="12" font-weight="bold" fill="#000" stroke="#000" stroke-width="0.45">E</text>
<text x="56.00" y="370.00" font-size="5.5" text-anchor="middle" fill="#111" font-weight="bold" textLength="40.00" lengthAdjust="spacingAndGlyphs" dominant-baseline="central">anti-GD2 CAR-T</text>
<line x1="13.75" y1="376.20" x2="98.75" y2="376.20" stroke="#222" stroke-width="1.2"/>
<text x="24.50" y="382.00" font-size="5.83" text-anchor="middle" fill="#151515" stroke="#151515" stroke-width="0.07" dominant-baseline="central">no</text>
<text x="24.50" y="388.70" font-size="5.83" text-anchor="middle" fill="#151515" textLength="19.00" lengthAdjust="spacingAndGlyphs" stroke="#151515" stroke-width="0.07" dominant-baseline="central">Enzyme</text>
<text x="44.10" y="388.70" font-size="5.83" text-anchor="middle" fill="#151515" textLength="9.30" lengthAdjust="spacingAndGlyphs" stroke="#151515" stroke-width="0.07" dominant-baseline="central">ASS</text>
<text x="62.50" y="388.70" font-size="5.83" text-anchor="middle" fill="#151515" textLength="10.00" lengthAdjust="spacingAndGlyphs" stroke="#151515" stroke-width="0.07" dominant-baseline="central">OTC</text>
<text x="86.90" y="388.70" font-size="5.83" text-anchor="middle" fill="#151515" textLength="23.70" lengthAdjust="spacingAndGlyphs" stroke="#151515" stroke-width="0.07" dominant-baseline="central">ASS/OTC</text>
<defs><filter id="bl" x="-20%" y="-50%" width="140%" height="200%"><feGaussianBlur stdDeviation="0.7"/></filter><filter id="bl2" x="-20%" y="-50%" width="140%" height="200%"><feGaussianBlur stdDeviation="0.4"/></filter><radialGradient id="blot" cx="0.5" cy="0.5" r="0.7"><stop offset="0" stop-color="#7d7d7d"/><stop offset="1" stop-color="#7a7a7a"/></radialGradient></defs>
<rect x="13.60" y="394.80" width="85.00" height="22.40" fill="url(#blot)" stroke="#666" stroke-width="0.5"/>
<rect x="13.60" y="419.60" width="85.00" height="23.30" fill="url(#blot)" stroke="#666" stroke-width="0.5"/>
<rect x="13.30" y="445.30" width="85.10" height="22.20" fill="url(#blot)" stroke="#666" stroke-width="0.5"/>
<g filter="url(#bl)" fill="#050505">
<ellipse cx="43.4" cy="407.5" rx="11.7" ry="4.3"/>
<path d="M79.3,407.6 Q79.3,405.9 82,405.9 L94.8,406.6 Q95.3,407.5 94.8,408.4 L82,409.3 Q79.3,409.3 79.3,407.6 Z"/>
<path d="M48.8,432 Q48.8,426 56,426 L62,426 Q71,426.2 77,428.8 L95,428.9 Q98.4,429.2 98.4,432.6 Q98.4,436.2 95,436.3 L77,436.4 Q71,437.6 62,437.6 L56,437.6 Q48.8,437.6 48.8,432 Z"/>
</g>
<g filter="url(#bl2)" fill="#080808">
<path d="M13.6,455.4 L29,455.2 Q31.6,455.5 31.6,457 Q31.6,458.5 29,458.8 L13.6,458.6 Z"/>
<ellipse cx="43.8" cy="456.8" rx="10.4" ry="2.4"/>
<ellipse cx="66.4" cy="456.4" rx="11.1" ry="2.3"/>
<path d="M78.3,456.4 Q79,454.3 84,454.2 Q90,452.5 94,451.9 Q97.8,451.6 98.3,453.5 L98.3,458.5 Q96,459.8 90,459.4 L84,459.2 Q79,458.8 78.3,456.4 Z"/>
</g>
<text x="102.00" y="407.00" font-size="5.83" text-anchor="start" fill="#151515" textLength="9.30" lengthAdjust="spacingAndGlyphs" stroke="#151515" stroke-width="0.07" dominant-baseline="central">ASS</text>
<text x="102.00" y="433.00" font-size="5.83" text-anchor="start" fill="#151515" textLength="10.00" lengthAdjust="spacingAndGlyphs" stroke="#151515" stroke-width="0.07" dominant-baseline="central">OTC</text>
<text x="102.40" y="455.20" font-size="5.83" text-anchor="start" fill="#151515" textLength="15.60" lengthAdjust="spacingAndGlyphs" stroke="#151515" stroke-width="0.07" dominant-baseline="central">β actin</text>
<text transform="translate(146.3 358.8) scale(0.89 1)" font-size="12" font-weight="bold" fill="#000" stroke="#000" stroke-width="0.45">F</text>
<rect x="192.20" y="360.40" width="5.40" height="2.80" fill="#1f3a70"/>
<text x="200.50" y="361.90" font-size="5.72" text-anchor="start" fill="#151515" textLength="42.00" lengthAdjust="spacingAndGlyphs" stroke="#151515" stroke-width="0.07" dominant-baseline="central">CART no Enzyme</text>
<rect x="192.20" y="368.90" width="5.40" height="2.80" fill="#5aa7e6"/>
<text x="200.50" y="370.40" font-size="5.72" text-anchor="start" fill="#151515" textLength="25.00" lengthAdjust="spacingAndGlyphs" stroke="#151515" stroke-width="0.07" dominant-baseline="central">CART-ASS</text>
<rect x="192.20" y="377.90" width="5.40" height="2.80" fill="#6aaa3a"/>
<text x="200.50" y="379.40" font-size="5.72" text-anchor="start" fill="#151515" textLength="39.30" lengthAdjust="spacingAndGlyphs" stroke="#151515" stroke-width="0.07" dominant-baseline="central">CART- ASS/OTC</text>
<line x1="186.20" y1="447.40" x2="188.80" y2="447.40" stroke="#111" stroke-width="0.9"/>
<text x="183.80" y="447.40" font-size="5.5" text-anchor="end" fill="#151515" stroke="#151515" stroke-width="0.07" dominant-baseline="central">0</text>
<line x1="186.20" y1="434.10" x2="188.80" y2="434.10" stroke="#111" stroke-width="0.9"/>
<text x="183.80" y="434.10" font-size="5.5" text-anchor="end" fill="#151515" textLength="5.60" lengthAdjust="spacingAndGlyphs" stroke="#151515" stroke-width="0.07" dominant-baseline="central">20</text>
<line x1="186.20" y1="420.80" x2="188.80" y2="420.80" stroke="#111" stroke-width="0.9"/>
<text x="183.80" y="420.80" font-size="5.5" text-anchor="end" fill="#151515" textLength="5.60" lengthAdjust="spacingAndGlyphs" stroke="#151515" stroke-width="0.07" dominant-baseline="central">40</text>
<line x1="186.20" y1="407.50" x2="188.80" y2="407.50" stroke="#111" stroke-width="0.9"/>
<text x="183.80" y="407.50" font-size="5.5" text-anchor="end" fill="#151515" textLength="5.60" lengthAdjust="spacingAndGlyphs" stroke="#151515" stroke-width="0.07" dominant-baseline="central">60</text>
<line x1="186.20" y1="394.20" x2="188.80" y2="394.20" stroke="#111" stroke-width="0.9"/>
<text x="183.80" y="394.20" font-size="5.5" text-anchor="end" fill="#151515" textLength="5.60" lengthAdjust="spacingAndGlyphs" stroke="#151515" stroke-width="0.07" dominant-baseline="central">80</text>
<line x1="186.20" y1="380.90" x2="188.80" y2="380.90" stroke="#111" stroke-width="0.9"/>
<text x="183.80" y="380.90" font-size="5.5" text-anchor="end" fill="#151515" textLength="9.10" lengthAdjust="spacingAndGlyphs" stroke="#151515" stroke-width="0.07" dominant-baseline="central">100</text>
<text x="157.40" y="413.00" font-size="6.16" text-anchor="middle" fill="#1c1c1c" textLength="30.00" lengthAdjust="spacingAndGlyphs" transform="rotate(-90 157.40 413.00)" stroke="#1c1c1c" stroke-width="0.07" dominant-baseline="central">ASS activity</text>
<text x="166.50" y="414.60" font-size="6.16" text-anchor="middle" fill="#1c1c1c" textLength="72.00" lengthAdjust="spacingAndGlyphs" transform="rotate(-90 166.50 414.60)" stroke="#1c1c1c" stroke-width="0.07" dominant-baseline="central">(milliunits / 1 million cells)</text>
<rect x="195.80" y="446.00" width="4.80" height="1.40" fill="#1f3a70"/>
<line x1="207.35" y1="440.50" x2="207.35" y2="439.30" stroke="#111" stroke-width="0.9"/>
<line x1="206.05" y1="439.30" x2="208.65" y2="439.30" stroke="#111" stroke-width="0.9"/>
<rect x="204.10" y="440.50" width="6.50" height="6.90" fill="#5aa7e6"/>
<line x1="217.10" y1="434.00" x2="217.10" y2="433.30" stroke="#111" stroke-width="0.9"/>
<line x1="215.80" y1="433.30" x2="218.40" y2="433.30" stroke="#111" stroke-width="0.9"/>
<rect x="213.80" y="434.00" width="6.60" height="13.40" fill="#6aaa3a"/>
<line x1="233.80" y1="445.60" x2="233.80" y2="445.00" stroke="#111" stroke-width="0.9"/>
<line x1="232.50" y1="445.00" x2="235.10" y2="445.00" stroke="#111" stroke-width="0.9"/>
<rect x="230.80" y="445.60" width="6.00" height="1.80" fill="#1f3a70"/>
<line x1="243.90" y1="418.00" x2="243.90" y2="416.20" stroke="#111" stroke-width="0.9"/>
<line x1="242.60" y1="416.20" x2="245.20" y2="416.20" stroke="#111" stroke-width="0.9"/>
<rect x="240.80" y="418.00" width="6.20" height="29.40" fill="#5aa7e6"/>
<line x1="253.70" y1="424.60" x2="253.70" y2="423.40" stroke="#111" stroke-width="0.9"/>
<line x1="252.40" y1="423.40" x2="255.00" y2="423.40" stroke="#111" stroke-width="0.9"/>
<rect x="250.50" y="424.60" width="6.40" height="22.80" fill="#6aaa3a"/>
<line x1="270.05" y1="445.60" x2="270.05" y2="445.00" stroke="#111" stroke-width="0.9"/>
<line x1="268.75" y1="445.00" x2="271.35" y2="445.00" stroke="#111" stroke-width="0.9"/>
<rect x="266.90" y="445.60" width="6.30" height="1.80" fill="#1f3a70"/>
<line x1="280.30" y1="398.00" x2="280.30" y2="396.20" stroke="#111" stroke-width="0.9"/>
<line x1="279.00" y1="396.20" x2="281.60" y2="396.20" stroke="#111" stroke-width="0.9"/>
<rect x="277.20" y="398.00" width="6.20" height="49.40" fill="#5aa7e6"/>
<line x1="290.15" y1="410.80" x2="290.15" y2="406.40" stroke="#111" stroke-width="0.9"/>
<line x1="288.85" y1="406.40" x2="291.45" y2="406.40" stroke="#111" stroke-width="0.9"/>
<rect x="286.90" y="410.80" width="6.50" height="36.60" fill="#6aaa3a"/>
<line x1="188.80" y1="379.30" x2="188.80" y2="447.90" stroke="#111" stroke-width="1"/>
<line x1="188.30" y1="447.40" x2="298.60" y2="447.40" stroke="#111" stroke-width="1"/>
<line x1="207.40" y1="447.40" x2="207.40" y2="450.80" stroke="#111" stroke-width="0.9"/>
<text x="206.80" y="457.00" font-size="5.72" text-anchor="middle" fill="#151515" textLength="19.00" lengthAdjust="spacingAndGlyphs" stroke="#151515" stroke-width="0.07" dominant-baseline="central">Donor 1</text>
<line x1="243.80" y1="447.40" x2="243.80" y2="450.80" stroke="#111" stroke-width="0.9"/>
<text x="243.20" y="457.00" font-size="5.72" text-anchor="middle" fill="#151515" textLength="19.00" lengthAdjust="spacingAndGlyphs" stroke="#151515" stroke-width="0.07" dominant-baseline="central">Donor 2</text>
<line x1="280.10" y1="447.40" x2="280.10" y2="450.80" stroke="#111" stroke-width="0.9"/>
<text x="279.50" y="457.00" font-size="5.72" text-anchor="middle" fill="#151515" textLength="19.00" lengthAdjust="spacingAndGlyphs" stroke="#151515" stroke-width="0.07" dominant-baseline="central">Donor 3</text>
<line x1="196.30" y1="429.50" x2="207.60" y2="429.50" stroke="#222" stroke-width="1.0"/>
<line x1="196.30" y1="428.40" x2="196.30" y2="430.60" stroke="#222" stroke-width="0.9"/>
<line x1="207.60" y1="428.40" x2="207.60" y2="430.60" stroke="#222" stroke-width="0.9"/>
<text x="201.90" y="424.30" font-size="5.28" text-anchor="middle" fill="#151515" textLength="17.00" lengthAdjust="spacingAndGlyphs" stroke="#151515" stroke-width="0.07" dominant-baseline="central">p=0.04</text>
<line x1="196.30" y1="420.90" x2="217.10" y2="420.90" stroke="#222" stroke-width="1.0"/>
<line x1="196.30" y1="419.80" x2="196.30" y2="422.00" stroke="#222" stroke-width="0.9"/>
<line x1="217.10" y1="419.80" x2="217.10" y2="422.00" stroke="#222" stroke-width="0.9"/>
<text x="206.70" y="416.20" font-size="5.28" text-anchor="middle" fill="#151515" textLength="20.80" lengthAdjust="spacingAndGlyphs" stroke="#151515" stroke-width="0.07" dominant-baseline="central">p=0.038</text>
<line x1="232.30" y1="411.50" x2="243.80" y2="411.50" stroke="#222" stroke-width="1.0"/>
<line x1="232.30" y1="410.40" x2="232.30" y2="412.60" stroke="#222" stroke-width="0.9"/>
<line x1="243.80" y1="410.40" x2="243.80" y2="412.60" stroke="#222" stroke-width="0.9"/>
<text x="238.50" y="406.50" font-size="5.28" text-anchor="middle" fill="#151515" textLength="19.00" lengthAdjust="spacingAndGlyphs" stroke="#151515" stroke-width="0.07" dominant-baseline="central">p=0.02]</text>
<line x1="232.30" y1="402.60" x2="253.50" y2="402.60" stroke="#222" stroke-width="1.0"/>
<line x1="232.30" y1="401.50" x2="232.30" y2="403.70" stroke="#222" stroke-width="0.9"/>
<line x1="253.50" y1="401.50" x2="253.50" y2="403.70" stroke="#222" stroke-width="0.9"/>
<text x="242.80" y="397.50" font-size="5.28" text-anchor="middle" fill="#151515" textLength="17.40" lengthAdjust="spacingAndGlyphs" stroke="#151515" stroke-width="0.07" dominant-baseline="central">p=0.03</text>
<line x1="268.50" y1="391.00" x2="280.00" y2="391.00" stroke="#222" stroke-width="1.0"/>
<line x1="268.50" y1="389.90" x2="268.50" y2="392.10" stroke="#222" stroke-width="0.9"/>
<line x1="280.00" y1="389.90" x2="280.00" y2="392.10" stroke="#222" stroke-width="0.9"/>
<text x="274.50" y="386.30" font-size="5.28" text-anchor="middle" fill="#151515" textLength="20.30" lengthAdjust="spacingAndGlyphs" stroke="#151515" stroke-width="0.07" dominant-baseline="central">p=0.008</text>
<line x1="268.50" y1="382.00" x2="290.00" y2="382.00" stroke="#222" stroke-width="1.0"/>
<line x1="268.50" y1="380.90" x2="268.50" y2="383.10" stroke="#222" stroke-width="0.9"/>
<line x1="290.00" y1="380.90" x2="290.00" y2="383.10" stroke="#222" stroke-width="0.9"/>
<text x="278.80" y="376.90" font-size="5.28" text-anchor="middle" fill="#151515" textLength="17.50" lengthAdjust="spacingAndGlyphs" stroke="#151515" stroke-width="0.07" dominant-baseline="central">p=0.01</text>
<text transform="translate(304.4 359.8) scale(0.95 1)" font-size="12" font-weight="bold" fill="#000" stroke="#000" stroke-width="0.45">G</text>
<rect x="413.60" y="360.70" width="5.40" height="2.80" fill="#1f3a70"/>
<text x="422.00" y="362.20" font-size="5.72" text-anchor="start" fill="#151515" textLength="41.70" lengthAdjust="spacingAndGlyphs" stroke="#151515" stroke-width="0.07" dominant-baseline="central">CART no Enzyme</text>
<rect x="413.60" y="369.60" width="5.40" height="2.80" fill="#b5122b"/>
<text x="422.00" y="370.80" font-size="5.72" text-anchor="start" fill="#151515" textLength="26.50" lengthAdjust="spacingAndGlyphs" stroke="#151515" stroke-width="0.07" dominant-baseline="central">CART-OTC</text>
<rect x="413.60" y="377.80" width="5.40" height="2.80" fill="#6aaa3a"/>
<text x="422.00" y="379.30" font-size="5.72" text-anchor="start" fill="#151515" textLength="39.40" lengthAdjust="spacingAndGlyphs" stroke="#151515" stroke-width="0.07" dominant-baseline="central">CART- ASS/OTC</text>
<line x1="342.40" y1="447.40" x2="345.40" y2="447.40" stroke="#111" stroke-width="0.9"/>
<text x="340.00" y="447.40" font-size="5.5" text-anchor="end" fill="#151515" stroke="#151515" stroke-width="0.07" dominant-baseline="central">0</text>
<line x1="342.40" y1="434.72" x2="345.40" y2="434.72" stroke="#111" stroke-width="0.9"/>
<text x="340.00" y="434.72" font-size="5.5" text-anchor="end" fill="#151515" stroke="#151515" stroke-width="0.07" dominant-baseline="central">2</text>
<line x1="342.40" y1="422.03" x2="345.40" y2="422.03" stroke="#111" stroke-width="0.9"/>
<text x="340.00" y="422.03" font-size="5.5" text-anchor="end" fill="#151515" stroke="#151515" stroke-width="0.07" dominant-baseline="central">4</text>
<line x1="342.40" y1="409.35" x2="345.40" y2="409.35" stroke="#111" stroke-width="0.9"/>
<text x="340.00" y="409.35" font-size="5.5" text-anchor="end" fill="#151515" stroke="#151515" stroke-width="0.07" dominant-baseline="central">6</text>
<line x1="342.40" y1="396.67" x2="345.40" y2="396.67" stroke="#111" stroke-width="0.9"/>
<text x="340.00" y="396.67" font-size="5.5" text-anchor="end" fill="#151515" stroke="#151515" stroke-width="0.07" dominant-baseline="central">8</text>
<line x1="342.40" y1="383.98" x2="345.40" y2="383.98" stroke="#111" stroke-width="0.9"/>
<text x="340.00" y="383.98" font-size="5.5" text-anchor="end" fill="#151515" textLength="5.30" lengthAdjust="spacingAndGlyphs" stroke="#151515" stroke-width="0.07" dominant-baseline="central">10</text>
<line x1="342.40" y1="371.30" x2="345.40" y2="371.30" stroke="#111" stroke-width="0.9"/>
<text x="340.00" y="371.30" font-size="5.5" text-anchor="end" fill="#151515" textLength="5.30" lengthAdjust="spacingAndGlyphs" stroke="#151515" stroke-width="0.07" dominant-baseline="central">12</text>
<text x="317.00" y="408.00" font-size="6.16" text-anchor="middle" fill="#1c1c1c" textLength="30.00" lengthAdjust="spacingAndGlyphs" transform="rotate(-90 317.00 408.00)" stroke="#1c1c1c" stroke-width="0.07" dominant-baseline="central">OTC activity</text>
<text x="326.50" y="408.30" font-size="6.16" text-anchor="middle" fill="#1c1c1c" textLength="70.00" lengthAdjust="spacingAndGlyphs" transform="rotate(-90 326.50 408.30)" stroke="#1c1c1c" stroke-width="0.07" dominant-baseline="central">(milliunits / 1 million cells)</text>
<line x1="353.25" y1="445.00" x2="353.25" y2="444.60" stroke="#111" stroke-width="0.9"/>
<line x1="351.95" y1="444.60" x2="354.55" y2="444.60" stroke="#111" stroke-width="0.9"/>
<rect x="350.10" y="445.00" width="6.30" height="2.40" fill="#1f3a70"/>
<line x1="362.35" y1="437.70" x2="362.35" y2="437.20" stroke="#111" stroke-width="0.9"/>
<line x1="361.05" y1="437.20" x2="363.65" y2="437.20" stroke="#111" stroke-width="0.9"/>
<rect x="359.30" y="437.70" width="6.10" height="9.70" fill="#b5122b"/>
<line x1="371.85" y1="383.20" x2="371.85" y2="379.70" stroke="#111" stroke-width="0.9"/>
<line x1="370.55" y1="379.70" x2="373.15" y2="379.70" stroke="#111" stroke-width="0.9"/>
<rect x="368.80" y="383.20" width="6.10" height="64.20" fill="#6aaa3a"/>
<line x1="387.20" y1="441.60" x2="387.20" y2="440.80" stroke="#111" stroke-width="0.9"/>
<line x1="385.90" y1="440.80" x2="388.50" y2="440.80" stroke="#111" stroke-width="0.9"/>
<rect x="384.00" y="441.60" width="6.40" height="5.80" fill="#1f3a70"/>
<line x1="396.55" y1="427.50" x2="396.55" y2="423.30" stroke="#111" stroke-width="0.9"/>
<line x1="395.25" y1="423.30" x2="397.85" y2="423.30" stroke="#111" stroke-width="0.9"/>
<rect x="393.40" y="427.50" width="6.30" height="19.90" fill="#b5122b"/>
<line x1="405.95" y1="413.50" x2="405.95" y2="409.00" stroke="#111" stroke-width="0.9"/>
<line x1="404.65" y1="409.00" x2="407.25" y2="409.00" stroke="#111" stroke-width="0.9"/>
<rect x="402.90" y="413.50" width="6.10" height="33.90" fill="#6aaa3a"/>
<line x1="421.25" y1="434.60" x2="421.25" y2="431.90" stroke="#111" stroke-width="0.9"/>
<line x1="419.95" y1="431.90" x2="422.55" y2="431.90" stroke="#111" stroke-width="0.9"/>
<rect x="418.10" y="434.60" width="6.30" height="12.80" fill="#1f3a70"/>
<line x1="430.55" y1="434.10" x2="430.55" y2="430.50" stroke="#111" stroke-width="0.9"/>
<line x1="429.25" y1="430.50" x2="431.85" y2="430.50" stroke="#111" stroke-width="0.9"/>
<rect x="427.40" y="434.10" width="6.30" height="13.30" fill="#b5122b"/>
<line x1="439.95" y1="415.80" x2="439.95" y2="408.10" stroke="#111" stroke-width="0.9"/>
<line x1="438.65" y1="408.10" x2="441.25" y2="408.10" stroke="#111" stroke-width="0.9"/>
<rect x="436.90" y="415.80" width="6.10" height="31.60" fill="#6aaa3a"/>
<line x1="345.40" y1="368.80" x2="345.40" y2="447.90" stroke="#111" stroke-width="1"/>
<line x1="344.90" y1="447.40" x2="447.60" y2="447.40" stroke="#111" stroke-width="1"/>
<line x1="362.30" y1="447.40" x2="362.30" y2="450.80" stroke="#111" stroke-width="0.9"/>
<text x="362.30" y="456.70" font-size="5.72" text-anchor="middle" fill="#151515" textLength="19.00" lengthAdjust="spacingAndGlyphs" stroke="#151515" stroke-width="0.07" dominant-baseline="central">Donor 1</text>
<line x1="396.60" y1="447.40" x2="396.60" y2="450.80" stroke="#111" stroke-width="0.9"/>
<text x="396.60" y="456.70" font-size="5.72" text-anchor="middle" fill="#151515" textLength="19.00" lengthAdjust="spacingAndGlyphs" stroke="#151515" stroke-width="0.07" dominant-baseline="central">Donor 2</text>
<line x1="430.40" y1="447.40" x2="430.40" y2="450.80" stroke="#111" stroke-width="0.9"/>
<text x="430.40" y="456.70" font-size="5.72" text-anchor="middle" fill="#151515" textLength="19.00" lengthAdjust="spacingAndGlyphs" stroke="#151515" stroke-width="0.07" dominant-baseline="central">Donor 3</text>
<line x1="350.10" y1="369.20" x2="371.40" y2="369.20" stroke="#222" stroke-width="1.0"/>
<line x1="350.10" y1="368.10" x2="350.10" y2="370.30" stroke="#222" stroke-width="0.9"/>
<line x1="371.40" y1="368.10" x2="371.40" y2="370.30" stroke="#222" stroke-width="0.9"/>
<text x="360.70" y="364.30" font-size="5.28" text-anchor="middle" fill="#151515" textLength="20.00" lengthAdjust="spacingAndGlyphs" stroke="#151515" stroke-width="0.07" dominant-baseline="central">p=0.001</text>
<line x1="350.10" y1="377.50" x2="361.60" y2="377.50" stroke="#222" stroke-width="1.0"/>
<line x1="350.10" y1="376.40" x2="350.10" y2="378.60" stroke="#222" stroke-width="0.9"/>
<line x1="361.60" y1="376.40" x2="361.60" y2="378.60" stroke="#222" stroke-width="0.9"/>
<text x="356.40" y="372.50" font-size="5.28" text-anchor="middle" fill="#151515" textLength="17.00" lengthAdjust="spacingAndGlyphs" stroke="#151515" stroke-width="0.07" dominant-baseline="central">p=0.04</text>
<line x1="384.50" y1="398.00" x2="405.40" y2="398.00" stroke="#222" stroke-width="1.0"/>
<line x1="384.50" y1="396.90" x2="384.50" y2="399.10" stroke="#222" stroke-width="0.9"/>
<line x1="405.40" y1="396.90" x2="405.40" y2="399.10" stroke="#222" stroke-width="0.9"/>
<text x="395.00" y="392.90" font-size="5.28" text-anchor="middle" fill="#151515" textLength="17.40" lengthAdjust="spacingAndGlyphs" stroke="#151515" stroke-width="0.07" dominant-baseline="central">p=0.02</text>
<line x1="384.50" y1="406.90" x2="396.10" y2="406.90" stroke="#222" stroke-width="1.0"/>
<line x1="384.50" y1="405.80" x2="384.50" y2="408.00" stroke="#222" stroke-width="0.9"/>
<line x1="396.10" y1="405.80" x2="396.10" y2="408.00" stroke="#222" stroke-width="0.9"/>
<text x="390.30" y="402.10" font-size="5.28" text-anchor="middle" fill="#151515" textLength="17.40" lengthAdjust="spacingAndGlyphs" stroke="#151515" stroke-width="0.07" dominant-baseline="central">p=0.03</text>
<line x1="419.70" y1="400.10" x2="440.50" y2="400.10" stroke="#222" stroke-width="1.0"/>
<line x1="419.70" y1="399.00" x2="419.70" y2="401.20" stroke="#222" stroke-width="0.9"/>
<line x1="440.50" y1="399.00" x2="440.50" y2="401.20" stroke="#222" stroke-width="0.9"/>
<text x="430.10" y="395.00" font-size="5.28" text-anchor="middle" fill="#151515" textLength="20.30" lengthAdjust="spacingAndGlyphs" stroke="#151515" stroke-width="0.07" dominant-baseline="central">p=0.049</text>
<line x1="419.70" y1="406.90" x2="431.50" y2="406.90" stroke="#222" stroke-width="1.0"/>
<line x1="419.70" y1="405.80" x2="419.70" y2="408.00" stroke="#222" stroke-width="0.9"/>
<line x1="431.50" y1="405.80" x2="431.50" y2="408.00" stroke="#222" stroke-width="0.9"/>
<text x="425.60" y="402.50" font-size="5.28" text-anchor="middle" fill="#151515" textLength="5.20" lengthAdjust="spacingAndGlyphs" stroke="#151515" stroke-width="0.07" dominant-baseline="central">ns</text>
<text transform="translate(7.6 483.6) scale(0.97 1)" font-size="12" font-weight="bold" fill="#000" stroke="#000" stroke-width="0.45">H</text>
<line x1="32.30" y1="612.60" x2="35.60" y2="612.60" stroke="#111" stroke-width="0.9"/>
<text x="29.90" y="612.60" font-size="5.5" text-anchor="end" fill="#151515" stroke="#151515" stroke-width="0.07" dominant-baseline="central">0</text>
<line x1="32.30" y1="598.44" x2="35.60" y2="598.44" stroke="#111" stroke-width="0.9"/>
<text x="29.90" y="598.44" font-size="5.5" text-anchor="end" fill="#151515" stroke="#151515" stroke-width="0.07" dominant-baseline="central">1</text>
<line x1="32.30" y1="584.27" x2="35.60" y2="584.27" stroke="#111" stroke-width="0.9"/>
<text x="29.90" y="584.27" font-size="5.5" text-anchor="end" fill="#151515" stroke="#151515" stroke-width="0.07" dominant-baseline="central">2</text>
<line x1="32.30" y1="570.11" x2="35.60" y2="570.11" stroke="#111" stroke-width="0.9"/>
<text x="29.90" y="570.11" font-size="5.5" text-anchor="end" fill="#151515" stroke="#151515" stroke-width="0.07" dominant-baseline="central">3</text>
<line x1="32.30" y1="555.95" x2="35.60" y2="555.95" stroke="#111" stroke-width="0.9"/>
<text x="29.90" y="555.95" font-size="5.5" text-anchor="end" fill="#151515" stroke="#151515" stroke-width="0.07" dominant-baseline="central">4</text>
<line x1="32.30" y1="541.79" x2="35.60" y2="541.79" stroke="#111" stroke-width="0.9"/>
<text x="29.90" y="541.79" font-size="5.5" text-anchor="end" fill="#151515" stroke="#151515" stroke-width="0.07" dominant-baseline="central">5</text>
<line x1="32.30" y1="527.62" x2="35.60" y2="527.62" stroke="#111" stroke-width="0.9"/>
<text x="29.90" y="527.62" font-size="5.5" text-anchor="end" fill="#151515" stroke="#151515" stroke-width="0.07" dominant-baseline="central">6</text>
<line x1="32.30" y1="513.46" x2="35.60" y2="513.46" stroke="#111" stroke-width="0.9"/>
<text x="29.90" y="513.46" font-size="5.5" text-anchor="end" fill="#151515" stroke="#151515" stroke-width="0.07" dominant-baseline="central">7</text>
<line x1="32.30" y1="499.30" x2="35.60" y2="499.30" stroke="#111" stroke-width="0.9"/>
<text x="29.90" y="499.30" font-size="5.5" text-anchor="end" fill="#151515" stroke="#151515" stroke-width="0.07" dominant-baseline="central">8</text>
<text x="20.50" y="555.00" font-size="6.38" text-anchor="middle" fill="#1c1c1c" textLength="65.30" lengthAdjust="spacingAndGlyphs" transform="rotate(-90 20.50 555.00)" stroke="#1c1c1c" stroke-width="0.07" dominant-baseline="central">Fold change relative GD2</text>
<rect x="41.80" y="597.00" width="23.00" height="15.60" fill="#f5dc96"/>
<rect x="76.30" y="591.00" width="23.40" height="21.60" fill="#b8d3f0"/>
<rect x="111.30" y="565.90" width="23.10" height="46.70" fill="#c98072"/>
<line x1="35.60" y1="497.50" x2="35.60" y2="613.00" stroke="#111" stroke-width="1"/>
<line x1="35.10" y1="612.60" x2="140.40" y2="612.60" stroke="#111" stroke-width="1"/>
<circle cx="53.10" cy="591.25" r="2.0" fill="#fffbe8" stroke="#e8b820" stroke-width="0.8"/>
<circle cx="46.90" cy="597.90" r="2.0" fill="#fffbe8" stroke="#e8b820" stroke-width="0.8"/>
<circle cx="49.80" cy="597.00" r="2.0" fill="#fffbe8" stroke="#e8b820" stroke-width="0.8"/>
<circle cx="51.30" cy="600.20" r="2.0" fill="#fffbe8" stroke="#e8b820" stroke-width="0.8"/>
<circle cx="55.00" cy="598.80" r="2.0" fill="#fffbe8" stroke="#e8b820" stroke-width="0.8"/>
<circle cx="56.20" cy="595.60" r="2.0" fill="#fffbe8" stroke="#e8b820" stroke-width="0.8"/>
<circle cx="59.40" cy="597.00" r="2.0" fill="#fffbe8" stroke="#e8b820" stroke-width="0.8"/>
<path d="M88.00,563.55 L90.30,567.46 L85.70,567.46 Z" fill="#ffffff" stroke="#4a90d9" stroke-width="0.85" stroke-linejoin="round"/>
<path d="M88.00,577.55 L90.30,581.46 L85.70,581.46 Z" fill="#ffffff" stroke="#4a90d9" stroke-width="0.85" stroke-linejoin="round"/>
<path d="M91.40,586.45 L93.70,590.36 L89.10,590.36 Z" fill="#ffffff" stroke="#4a90d9" stroke-width="0.85" stroke-linejoin="round"/>
<path d="M84.70,588.15 L87.00,592.06 L82.40,592.06 Z" fill="#ffffff" stroke="#4a90d9" stroke-width="0.85" stroke-linejoin="round"/>
<path d="M84.70,595.15 L87.00,599.06 L82.40,599.06 Z" fill="#ffffff" stroke="#4a90d9" stroke-width="0.85" stroke-linejoin="round"/>
<path d="M91.40,599.35 L93.70,603.26 L89.10,603.26 Z" fill="#ffffff" stroke="#4a90d9" stroke-width="0.85" stroke-linejoin="round"/>
<path d="M88.00,609.95 L90.30,613.86 L85.70,613.86 Z" fill="#ffffff" stroke="#4a90d9" stroke-width="0.85" stroke-linejoin="round"/>
<circle cx="122.80" cy="516.60" r="2.0" fill="#ffffff" stroke="#c0284a" stroke-width="0.95"/>
<circle cx="122.80" cy="542.60" r="2.0" fill="#ffffff" stroke="#c0284a" stroke-width="0.95"/>
<circle cx="122.80" cy="555.70" r="2.0" fill="#ffffff" stroke="#c0284a" stroke-width="0.95"/>
<circle cx="122.80" cy="564.40" r="2.0" fill="#ffffff" stroke="#c0284a" stroke-width="0.95"/>
<circle cx="122.80" cy="570.50" r="2.0" fill="#ffffff" stroke="#c0284a" stroke-width="0.95"/>
<circle cx="122.80" cy="581.40" r="2.0" fill="#ffffff" stroke="#c0284a" stroke-width="0.95"/>
<circle cx="122.80" cy="592.40" r="2.0" fill="#ffffff" stroke="#c0284a" stroke-width="0.95"/>
<circle cx="122.80" cy="600.70" r="2.0" fill="#ffffff" stroke="#c0284a" stroke-width="0.95"/>
<line x1="53.20" y1="612.60" x2="53.20" y2="615.20" stroke="#111" stroke-width="0.9"/>
<text x="53.20" y="621.70" font-size="5.5" text-anchor="middle" fill="#151515" textLength="26.60" lengthAdjust="spacingAndGlyphs" stroke="#151515" stroke-width="0.07" dominant-baseline="central">no Enzyme</text>
<line x1="88.30" y1="612.60" x2="88.30" y2="615.20" stroke="#111" stroke-width="0.9"/>
<text x="88.30" y="621.70" font-size="5.5" text-anchor="middle" fill="#151515" textLength="8.90" lengthAdjust="spacingAndGlyphs" stroke="#151515" stroke-width="0.07" dominant-baseline="central">ASS</text>
<line x1="122.90" y1="612.60" x2="122.90" y2="615.20" stroke="#111" stroke-width="0.9"/>
<text x="122.90" y="621.70" font-size="5.5" text-anchor="middle" fill="#151515" textLength="11.50" lengthAdjust="spacingAndGlyphs" stroke="#151515" stroke-width="0.07" dominant-baseline="central">OTC</text>
<line x1="36.10" y1="627.60" x2="139.30" y2="627.60" stroke="#333" stroke-width="1"/>
<text x="88.00" y="633.20" font-size="5.5" text-anchor="middle" fill="#151515" textLength="39.60" lengthAdjust="spacingAndGlyphs" stroke="#151515" stroke-width="0.07" dominant-baseline="central">anti-GD2 CAR-T</text>
<line x1="45.00" y1="501.30" x2="123.40" y2="501.30" stroke="#222" stroke-width="1.0"/>
<line x1="45.00" y1="500.20" x2="45.00" y2="502.40" stroke="#222" stroke-width="0.9"/>
<line x1="123.40" y1="500.20" x2="123.40" y2="502.40" stroke="#222" stroke-width="0.9"/>
<text x="83.40" y="498.00" font-size="5.28" text-anchor="middle" fill="#151515" textLength="23.30" lengthAdjust="spacingAndGlyphs" stroke="#151515" stroke-width="0.07" dominant-baseline="central">p=0.0485</text>
<line x1="45.00" y1="508.20" x2="87.50" y2="508.20" stroke="#222" stroke-width="1.0"/>
<line x1="45.00" y1="507.10" x2="45.00" y2="509.30" stroke="#222" stroke-width="0.9"/>
<line x1="87.50" y1="507.10" x2="87.50" y2="509.30" stroke="#222" stroke-width="0.9"/>
<text x="64.50" y="505.50" font-size="5.28" text-anchor="middle" fill="#151515" textLength="20.50" lengthAdjust="spacingAndGlyphs" stroke="#151515" stroke-width="0.07" dominant-baseline="central">p=0.049</text>
<text transform="translate(147.0 484.1) scale(0.85 1)" font-size="12" font-weight="bold" fill="#000" stroke="#000" stroke-width="0.45">I</text>
<line x1="189.20" y1="501.50" x2="189.20" y2="523.50" stroke="#111" stroke-width="1"/>
<line x1="187.40" y1="523.50" x2="191.00" y2="523.50" stroke="#111" stroke-width="0.9"/>
<line x1="189.20" y1="526.40" x2="189.20" y2="613.20" stroke="#111" stroke-width="1"/>
<line x1="187.40" y1="526.40" x2="191.00" y2="526.40" stroke="#111" stroke-width="0.9"/>
<line x1="186.60" y1="504.40" x2="189.20" y2="504.40" stroke="#111" stroke-width="0.9"/>
<text x="182.70" y="504.40" font-size="5.17" text-anchor="end" fill="#151515" textLength="11.70" lengthAdjust="spacingAndGlyphs" stroke="#151515" stroke-width="0.07" dominant-baseline="central">4000</text>
<line x1="186.60" y1="511.30" x2="189.20" y2="511.30" stroke="#111" stroke-width="0.9"/>
<text x="182.70" y="511.30" font-size="5.17" text-anchor="end" fill="#151515" textLength="11.70" lengthAdjust="spacingAndGlyphs" stroke="#151515" stroke-width="0.07" dominant-baseline="central">3000</text>
<line x1="186.60" y1="518.20" x2="189.20" y2="518.20" stroke="#111" stroke-width="0.9"/>
<text x="182.70" y="518.20" font-size="5.17" text-anchor="end" fill="#151515" textLength="11.70" lengthAdjust="spacingAndGlyphs" stroke="#151515" stroke-width="0.07" dominant-baseline="central">2000</text>
<line x1="186.60" y1="612.80" x2="189.20" y2="612.80" stroke="#111" stroke-width="0.9"/>
<text x="182.70" y="612.80" font-size="5.17" text-anchor="end" fill="#151515" stroke="#151515" stroke-width="0.07" dominant-baseline="central">0</text>
<line x1="186.60" y1="604.16" x2="189.20" y2="604.16" stroke="#111" stroke-width="0.9"/>
<text x="182.70" y="604.16" font-size="5.17" text-anchor="end" fill="#151515" textLength="8.60" lengthAdjust="spacingAndGlyphs" stroke="#151515" stroke-width="0.07" dominant-baseline="central">100</text>
<line x1="186.60" y1="595.52" x2="189.20" y2="595.52" stroke="#111" stroke-width="0.9"/>
<text x="182.70" y="595.52" font-size="5.17" text-anchor="end" fill="#151515" textLength="8.60" lengthAdjust="spacingAndGlyphs" stroke="#151515" stroke-width="0.07" dominant-baseline="central">200</text>
<line x1="186.60" y1="586.88" x2="189.20" y2="586.88" stroke="#111" stroke-width="0.9"/>
<text x="182.70" y="586.88" font-size="5.17" text-anchor="end" fill="#151515" textLength="8.60" lengthAdjust="spacingAndGlyphs" stroke="#151515" stroke-width="0.07" dominant-baseline="central">300</text>
<line x1="186.60" y1="578.24" x2="189.20" y2="578.24" stroke="#111" stroke-width="0.9"/>
<text x="182.70" y="578.24" font-size="5.17" text-anchor="end" fill="#151515" textLength="8.60" lengthAdjust="spacingAndGlyphs" stroke="#151515" stroke-width="0.07" dominant-baseline="central">400</text>
<line x1="186.60" y1="569.60" x2="189.20" y2="569.60" stroke="#111" stroke-width="0.9"/>
<text x="182.70" y="569.60" font-size="5.17" text-anchor="end" fill="#151515" textLength="8.60" lengthAdjust="spacingAndGlyphs" stroke="#151515" stroke-width="0.07" dominant-baseline="central">500</text>
<line x1="186.60" y1="560.96" x2="189.20" y2="560.96" stroke="#111" stroke-width="0.9"/>
<text x="182.70" y="560.96" font-size="5.17" text-anchor="end" fill="#151515" textLength="8.60" lengthAdjust="spacingAndGlyphs" stroke="#151515" stroke-width="0.07" dominant-baseline="central">600</text>
<line x1="186.60" y1="552.32" x2="189.20" y2="552.32" stroke="#111" stroke-width="0.9"/>
<text x="182.70" y="552.32" font-size="5.17" text-anchor="end" fill="#151515" textLength="8.60" lengthAdjust="spacingAndGlyphs" stroke="#151515" stroke-width="0.07" dominant-baseline="central">700</text>
<line x1="186.60" y1="543.68" x2="189.20" y2="543.68" stroke="#111" stroke-width="0.9"/>
<text x="182.70" y="543.68" font-size="5.17" text-anchor="end" fill="#151515" textLength="8.60" lengthAdjust="spacingAndGlyphs" stroke="#151515" stroke-width="0.07" dominant-baseline="central">800</text>
<line x1="186.60" y1="535.04" x2="189.20" y2="535.04" stroke="#111" stroke-width="0.9"/>
<text x="182.70" y="535.04" font-size="5.17" text-anchor="end" fill="#151515" textLength="8.60" lengthAdjust="spacingAndGlyphs" stroke="#151515" stroke-width="0.07" dominant-baseline="central">900</text>
<line x1="186.60" y1="526.40" x2="189.20" y2="526.40" stroke="#111" stroke-width="0.9"/>
<text x="182.70" y="526.40" font-size="5.17" text-anchor="end" fill="#151515" textLength="11.70" lengthAdjust="spacingAndGlyphs" stroke="#151515" stroke-width="0.07" dominant-baseline="central">1000</text>
<text x="164.20" y="557.00" font-size="6.38" text-anchor="middle" fill="#1c1c1c" textLength="94.50" lengthAdjust="spacingAndGlyphs" transform="rotate(-90 164.20 557.00)" stroke="#1c1c1c" stroke-width="0.07" dominant-baseline="central">% of  proliferation  relative to control</text>
<rect x="193.30" y="606.20" width="17.00" height="6.60" fill="#f5dc96"/>
<rect x="219.10" y="577.10" width="17.00" height="35.70" fill="#b8d3f0"/>
<rect x="245.00" y="562.80" width="17.00" height="50.00" fill="#d08a7c"/>
<rect x="271.00" y="570.90" width="16.80" height="41.90" fill="#c6dea2"/>
<line x1="227.70" y1="577.10" x2="227.70" y2="538.30" stroke="#6aaee8" stroke-width="0.9"/>
<line x1="223.40" y1="538.30" x2="232.10" y2="538.30" stroke="#6aaee8" stroke-width="1"/>
<line x1="253.50" y1="562.80" x2="253.50" y2="522.00" stroke="#c0284a" stroke-width="1.0"/>
<line x1="249.00" y1="522.00" x2="258.00" y2="522.00" stroke="#c0284a" stroke-width="1.2"/>
<line x1="279.30" y1="570.90" x2="279.30" y2="544.20" stroke="#6ab04c" stroke-width="0.9"/>
<line x1="275.20" y1="544.20" x2="283.30" y2="544.20" stroke="#6ab04c" stroke-width="1"/>
<rect x="194" y="602.2" width="16.3" height="4" rx="2" fill="#111"/>
<circle cx="196.70" cy="604.20" r="1.2" fill="#f8d020" stroke="#f8d020" stroke-width="0.1"/>
<circle cx="202.00" cy="604.20" r="1.2" fill="#f8d020" stroke="#f8d020" stroke-width="0.1"/>
<circle cx="207.40" cy="604.20" r="1.2" fill="#f8d020" stroke="#f8d020" stroke-width="0.1"/>
<rect x="225.95" y="518.15" width="3.3" height="3.3" fill="#5ab0f0" stroke="#111" stroke-width="0.85"/>
<rect x="226.05" y="545.05" width="3.3" height="3.3" fill="#5ab0f0" stroke="#111" stroke-width="0.85"/>
<rect x="226.05" y="564.45" width="3.3" height="3.3" fill="#5ab0f0" stroke="#111" stroke-width="0.85"/>
<rect x="223.35" y="578.45" width="3.3" height="3.3" fill="#5ab0f0" stroke="#111" stroke-width="0.85"/>
<rect x="228.75" y="579.15" width="3.3" height="3.3" fill="#5ab0f0" stroke="#111" stroke-width="0.85"/>
<rect x="220.45" y="587.15" width="3.3" height="3.3" fill="#5ab0f0" stroke="#111" stroke-width="0.85"/>
<rect x="226.05" y="588.75" width="3.3" height="3.3" fill="#5ab0f0" stroke="#111" stroke-width="0.85"/>
<rect x="231.35" y="588.75" width="3.3" height="3.3" fill="#5ab0f0" stroke="#111" stroke-width="0.85"/>
<rect x="223.35" y="591.85" width="3.3" height="3.3" fill="#5ab0f0" stroke="#111" stroke-width="0.85"/>
<rect x="228.75" y="595.15" width="3.3" height="3.3" fill="#5ab0f0" stroke="#111" stroke-width="0.85"/>
<rect x="220.45" y="601.65" width="3.3" height="3.3" fill="#5ab0f0" stroke="#111" stroke-width="0.85"/>
<rect x="226.05" y="602.25" width="3.3" height="3.3" fill="#5ab0f0" stroke="#111" stroke-width="0.85"/>
<rect x="231.35" y="601.65" width="3.3" height="3.3" fill="#5ab0f0" stroke="#111" stroke-width="0.85"/>
<path d="M253.50,505.56 L255.50,508.96 L251.50,508.96 Z" fill="#a80e1e" stroke="#111" stroke-width="0.85" stroke-linejoin="round"/>
<path d="M250.80,563.76 L252.80,567.16 L248.80,567.16 Z" fill="#a80e1e" stroke="#111" stroke-width="0.85" stroke-linejoin="round"/>
<path d="M256.20,563.26 L258.20,566.66 L254.20,566.66 Z" fill="#a80e1e" stroke="#111" stroke-width="0.85" stroke-linejoin="round"/>
<path d="M250.80,570.66 L252.80,574.06 L248.80,574.06 Z" fill="#a80e1e" stroke="#111" stroke-width="0.85" stroke-linejoin="round"/>
<path d="M256.20,572.46 L258.20,575.86 L254.20,575.86 Z" fill="#a80e1e" stroke="#111" stroke-width="0.85" stroke-linejoin="round"/>
<path d="M248.10,577.66 L250.10,581.06 L246.10,581.06 Z" fill="#a80e1e" stroke="#111" stroke-width="0.85" stroke-linejoin="round"/>
<path d="M258.90,578.26 L260.90,581.66 L256.90,581.66 Z" fill="#a80e1e" stroke="#111" stroke-width="0.85" stroke-linejoin="round"/>
<path d="M253.50,582.76 L255.50,586.16 L251.50,586.16 Z" fill="#a80e1e" stroke="#111" stroke-width="0.85" stroke-linejoin="round"/>
<path d="M250.80,588.16 L252.80,591.56 L248.80,591.56 Z" fill="#a80e1e" stroke="#111" stroke-width="0.85" stroke-linejoin="round"/>
<path d="M248.10,594.46 L250.10,597.86 L246.10,597.86 Z" fill="#a80e1e" stroke="#111" stroke-width="0.85" stroke-linejoin="round"/>
<path d="M256.20,592.66 L258.20,596.06 L254.20,596.06 Z" fill="#a80e1e" stroke="#111" stroke-width="0.85" stroke-linejoin="round"/>
<path d="M253.50,599.36 L255.50,602.76 L251.50,602.76 Z" fill="#a80e1e" stroke="#111" stroke-width="0.85" stroke-linejoin="round"/>
<path d="M258.90,598.06 L260.90,601.46 L256.90,601.46 Z" fill="#a80e1e" stroke="#111" stroke-width="0.85" stroke-linejoin="round"/>
<path d="M279.30,543.54 L281.30,540.14 L277.30,540.14 Z" fill="#2a7a1a" stroke="#111" stroke-width="0.85" stroke-linejoin="round"/>
<path d="M279.30,554.34 L281.30,550.94 L277.30,550.94 Z" fill="#2a7a1a" stroke="#111" stroke-width="0.85" stroke-linejoin="round"/>
<path d="M273.90,561.24 L275.90,557.84 L271.90,557.84 Z" fill="#2a7a1a" stroke="#111" stroke-width="0.85" stroke-linejoin="round"/>
<path d="M279.30,561.24 L281.30,557.84 L277.30,557.84 Z" fill="#2a7a1a" stroke="#111" stroke-width="0.85" stroke-linejoin="round"/>
<path d="M284.70,558.34 L286.70,554.94 L282.70,554.94 Z" fill="#2a7a1a" stroke="#111" stroke-width="0.85" stroke-linejoin="round"/>
<path d="M273.90,584.14 L275.90,580.74 L271.90,580.74 Z" fill="#2a7a1a" stroke="#111" stroke-width="0.85" stroke-linejoin="round"/>
<path d="M279.30,585.04 L281.30,581.64 L277.30,581.64 Z" fill="#2a7a1a" stroke="#111" stroke-width="0.85" stroke-linejoin="round"/>
<path d="M284.70,584.64 L286.70,581.24 L282.70,581.24 Z" fill="#2a7a1a" stroke="#111" stroke-width="0.85" stroke-linejoin="round"/>
<path d="M276.60,594.94 L278.60,591.54 L274.60,591.54 Z" fill="#2a7a1a" stroke="#111" stroke-width="0.85" stroke-linejoin="round"/>
<path d="M284.70,595.44 L286.70,592.04 L282.70,592.04 Z" fill="#2a7a1a" stroke="#111" stroke-width="0.85" stroke-linejoin="round"/>
<path d="M282.00,600.34 L284.00,596.94 L280.00,596.94 Z" fill="#2a7a1a" stroke="#111" stroke-width="0.85" stroke-linejoin="round"/>
<path d="M276.60,604.84 L278.60,601.44 L274.60,601.44 Z" fill="#2a7a1a" stroke="#111" stroke-width="0.85" stroke-linejoin="round"/>
<line x1="188.70" y1="612.80" x2="291.80" y2="612.80" stroke="#111" stroke-width="1"/>
<line x1="201.80" y1="612.80" x2="201.80" y2="615.40" stroke="#111" stroke-width="0.9"/>
<text x="201.80" y="621.90" font-size="5.39" text-anchor="middle" fill="#151515" textLength="24.50" lengthAdjust="spacingAndGlyphs" stroke="#151515" stroke-width="0.07" dominant-baseline="central">no Enzyme</text>
<line x1="227.70" y1="612.80" x2="227.70" y2="615.40" stroke="#111" stroke-width="0.9"/>
<text x="227.70" y="621.90" font-size="5.39" text-anchor="middle" fill="#151515" textLength="8.40" lengthAdjust="spacingAndGlyphs" stroke="#151515" stroke-width="0.07" dominant-baseline="central">ASS</text>
<line x1="253.50" y1="612.80" x2="253.50" y2="615.40" stroke="#111" stroke-width="0.9"/>
<text x="253.50" y="621.90" font-size="5.39" text-anchor="middle" fill="#151515" textLength="10.20" lengthAdjust="spacingAndGlyphs" stroke="#151515" stroke-width="0.07" dominant-baseline="central">OTC</text>
<line x1="279.30" y1="612.80" x2="279.30" y2="615.40" stroke="#111" stroke-width="0.9"/>
<text x="279.30" y="621.90" font-size="5.39" text-anchor="middle" fill="#151515" textLength="22.50" lengthAdjust="spacingAndGlyphs" stroke="#151515" stroke-width="0.07" dominant-baseline="central">ASS/OTC</text>
<line x1="189.70" y1="628.20" x2="291.80" y2="628.20" stroke="#333" stroke-width="1"/>
<text x="241.80" y="633.50" font-size="5.39" text-anchor="middle" fill="#151515" textLength="13.00" lengthAdjust="spacingAndGlyphs" stroke="#151515" stroke-width="0.07" dominant-baseline="central">CAR-T</text>
<line x1="199.80" y1="491.40" x2="279.30" y2="491.40" stroke="#222" stroke-width="1.0"/>
<line x1="199.80" y1="490.30" x2="199.80" y2="492.50" stroke="#222" stroke-width="0.9"/>
<line x1="279.30" y1="490.30" x2="279.30" y2="492.50" stroke="#222" stroke-width="0.9"/>
<text x="239.50" y="486.00" font-size="5.28" text-anchor="middle" fill="#151515" textLength="20.50" lengthAdjust="spacingAndGlyphs" stroke="#151515" stroke-width="0.07" dominant-baseline="central">p=0.022</text>
<line x1="199.80" y1="500.60" x2="251.20" y2="500.60" stroke="#222" stroke-width="1.0"/>
<line x1="199.80" y1="499.50" x2="199.80" y2="501.70" stroke="#222" stroke-width="0.9"/>
<line x1="251.20" y1="499.50" x2="251.20" y2="501.70" stroke="#222" stroke-width="0.9"/>
<text x="225.50" y="495.80" font-size="5.28" text-anchor="middle" fill="#151515" textLength="20.50" lengthAdjust="spacingAndGlyphs" stroke="#151515" stroke-width="0.07" dominant-baseline="central">p=0.045</text>
<line x1="199.80" y1="509.70" x2="230.90" y2="509.70" stroke="#222" stroke-width="1.0"/>
<line x1="199.80" y1="508.60" x2="199.80" y2="510.80" stroke="#222" stroke-width="0.9"/>
<line x1="230.90" y1="508.60" x2="230.90" y2="510.80" stroke="#222" stroke-width="0.9"/>
<text x="215.30" y="504.90" font-size="5.28" text-anchor="middle" fill="#151515" textLength="20.50" lengthAdjust="spacingAndGlyphs" stroke="#151515" stroke-width="0.07" dominant-baseline="central">p=0.028</text>
<text transform="translate(305.3 484.4) scale(0.72 1)" font-size="12" font-weight="bold" fill="#000" stroke="#000" stroke-width="0.45">J</text>
<rect x="350.45" y="504.65" width="4.1" height="4.1" fill="none" stroke="#7a3f98" stroke-width="1.0"/>
<text x="357.60" y="506.90" font-size="5.39" text-anchor="start" fill="#151515" textLength="36.50" lengthAdjust="spacingAndGlyphs" stroke="#151515" stroke-width="0.07" dominant-baseline="central">GD2 CAR-T D2</text>
<path d="M402.30,508.34 L404.40,504.77 L400.20,504.77 Z" fill="none" stroke="#e8901a" stroke-width="1.0" stroke-linejoin="round"/>
<text x="408.20" y="506.90" font-size="5.39" text-anchor="start" fill="#151515" textLength="41.50" lengthAdjust="spacingAndGlyphs" stroke="#151515" stroke-width="0.07" dominant-baseline="central">CD33 CAR-T  D4</text>
<circle cx="352.50" cy="516.40" r="1.8" fill="none" stroke="#3a5aa8" stroke-width="1.0"/>
<text x="357.60" y="516.50" font-size="5.39" text-anchor="start" fill="#151515" textLength="36.50" lengthAdjust="spacingAndGlyphs" stroke="#151515" stroke-width="0.07" dominant-baseline="central">GD2 CAR-T D1</text>
<path d="M402.30,514.06 L404.40,517.63 L400.20,517.63 Z" fill="none" stroke="#a4b868" stroke-width="1.0" stroke-linejoin="round"/>
<text x="408.20" y="516.50" font-size="5.39" text-anchor="start" fill="#151515" textLength="41.00" lengthAdjust="spacingAndGlyphs" stroke="#151515" stroke-width="0.07" dominant-baseline="central">CD33 CAR-T D3</text>
<line x1="344.60" y1="537.40" x2="344.60" y2="613.00" stroke="#111" stroke-width="1"/>
<line x1="344.10" y1="612.60" x2="454.50" y2="612.60" stroke="#111" stroke-width="1"/>
<line x1="342.00" y1="612.60" x2="344.60" y2="612.60" stroke="#111" stroke-width="0.9"/>
<text x="340.00" y="612.60" font-size="5.39" text-anchor="end" fill="#151515" stroke="#151515" stroke-width="0.07" dominant-baseline="central">0</text>
<line x1="342.00" y1="598.10" x2="344.60" y2="598.10" stroke="#111" stroke-width="0.9"/>
<text x="340.00" y="598.10" font-size="5.39" text-anchor="end" fill="#151515" textLength="8.40" lengthAdjust="spacingAndGlyphs" stroke="#151515" stroke-width="0.07" dominant-baseline="central">100</text>
<line x1="342.00" y1="583.60" x2="344.60" y2="583.60" stroke="#111" stroke-width="0.9"/>
<text x="340.00" y="583.60" font-size="5.39" text-anchor="end" fill="#151515" textLength="8.40" lengthAdjust="spacingAndGlyphs" stroke="#151515" stroke-width="0.07" dominant-baseline="central">200</text>
<line x1="342.00" y1="569.10" x2="344.60" y2="569.10" stroke="#111" stroke-width="0.9"/>
<text x="340.00" y="569.10" font-size="5.39" text-anchor="end" fill="#151515" textLength="8.40" lengthAdjust="spacingAndGlyphs" stroke="#151515" stroke-width="0.07" dominant-baseline="central">300</text>
<line x1="342.00" y1="554.60" x2="344.60" y2="554.60" stroke="#111" stroke-width="0.9"/>
<text x="340.00" y="554.60" font-size="5.39" text-anchor="end" fill="#151515" textLength="8.40" lengthAdjust="spacingAndGlyphs" stroke="#151515" stroke-width="0.07" dominant-baseline="central">400</text>
<line x1="342.00" y1="540.10" x2="344.60" y2="540.10" stroke="#111" stroke-width="0.9"/>
<text x="340.00" y="540.10" font-size="5.39" text-anchor="end" fill="#151515" textLength="8.40" lengthAdjust="spacingAndGlyphs" stroke="#151515" stroke-width="0.07" dominant-baseline="central">500</text>
<text x="323.20" y="575.00" font-size="6.38" text-anchor="middle" fill="#1c1c1c" textLength="106.00" lengthAdjust="spacingAndGlyphs" transform="rotate(-90 323.20 575.00)" stroke="#1c1c1c" stroke-width="0.07" dominant-baseline="central">% proliferation in TCM relative to control</text>
<line x1="359.00" y1="612.60" x2="359.00" y2="615.20" stroke="#111" stroke-width="0.9"/>
<text x="359.00" y="621.70" font-size="5.5" text-anchor="middle" fill="#151515" textLength="27.00" lengthAdjust="spacingAndGlyphs" stroke="#151515" stroke-width="0.07" dominant-baseline="central">no Enzyme</text>
<line x1="386.40" y1="612.60" x2="386.40" y2="615.20" stroke="#111" stroke-width="0.9"/>
<text x="386.40" y="621.70" font-size="5.5" text-anchor="middle" fill="#151515" textLength="9.00" lengthAdjust="spacingAndGlyphs" stroke="#151515" stroke-width="0.07" dominant-baseline="central">ASS</text>
<line x1="413.30" y1="612.60" x2="413.30" y2="615.20" stroke="#111" stroke-width="0.9"/>
<text x="413.30" y="621.70" font-size="5.5" text-anchor="middle" fill="#151515" textLength="10.50" lengthAdjust="spacingAndGlyphs" stroke="#151515" stroke-width="0.07" dominant-baseline="central">OTC</text>
<line x1="440.60" y1="612.60" x2="440.60" y2="615.20" stroke="#111" stroke-width="0.9"/>
<text x="440.60" y="621.70" font-size="5.5" text-anchor="middle" fill="#151515" textLength="23.00" lengthAdjust="spacingAndGlyphs" stroke="#151515" stroke-width="0.07" dominant-baseline="central">ASS/OTC</text>
<line x1="345.00" y1="627.80" x2="454.20" y2="627.80" stroke="#333" stroke-width="1"/>
<text x="398.80" y="633.60" font-size="5.5" text-anchor="middle" fill="#151515" textLength="13.00" lengthAdjust="spacingAndGlyphs" stroke="#151515" stroke-width="0.07" dominant-baseline="central">CAR-T</text>
<line x1="357.50" y1="530.00" x2="440.60" y2="530.00" stroke="#222" stroke-width="1.0"/>
<line x1="357.50" y1="528.90" x2="357.50" y2="531.10" stroke="#222" stroke-width="0.9"/>
<line x1="440.60" y1="528.90" x2="440.60" y2="531.10" stroke="#222" stroke-width="0.9"/>
<text x="398.80" y="524.90" font-size="5.28" text-anchor="middle" fill="#151515" textLength="20.00" lengthAdjust="spacingAndGlyphs" stroke="#151515" stroke-width="0.07" dominant-baseline="central">p=0.049</text>
<line x1="357.50" y1="538.90" x2="413.30" y2="538.90" stroke="#222" stroke-width="1.0"/>
<line x1="357.50" y1="537.80" x2="357.50" y2="540.00" stroke="#222" stroke-width="0.9"/>
<line x1="413.30" y1="537.80" x2="413.30" y2="540.00" stroke="#222" stroke-width="0.9"/>
<text x="385.10" y="534.10" font-size="5.28" text-anchor="middle" fill="#151515" textLength="20.00" lengthAdjust="spacingAndGlyphs" stroke="#151515" stroke-width="0.07" dominant-baseline="central">p=0.046</text>
<line x1="357.50" y1="548.00" x2="385.10" y2="548.00" stroke="#222" stroke-width="1.0"/>
<line x1="357.50" y1="546.90" x2="357.50" y2="549.10" stroke="#222" stroke-width="0.9"/>
<line x1="385.10" y1="546.90" x2="385.10" y2="549.10" stroke="#222" stroke-width="0.9"/>
<text x="371.60" y="542.90" font-size="5.28" text-anchor="middle" fill="#151515" textLength="16.50" lengthAdjust="spacingAndGlyphs" stroke="#151515" stroke-width="0.07" dominant-baseline="central">p=0.03</text>
<line x1="350.20" y1="598.20" x2="368.20" y2="598.20" stroke="#111" stroke-width="1"/>
<rect x="350.45" y="596.15" width="4.1" height="4.1" fill="none" stroke="#7a3f98" stroke-width="1.0"/>
<path d="M356.40,600.44 L358.40,597.04 L354.40,597.04 Z" fill="none" stroke="#e8901a" stroke-width="1.0" stroke-linejoin="round"/>
<path d="M360.80,596.36 L362.80,599.76 L358.80,599.76 Z" fill="none" stroke="#a4b868" stroke-width="1.0" stroke-linejoin="round"/>
<circle cx="366.00" cy="598.50" r="1.8" fill="none" stroke="#3a5aa8" stroke-width="1.0"/>
<line x1="377.30" y1="578.40" x2="395.60" y2="578.40" stroke="#111" stroke-width="1.1"/>
<rect x="384.35" y="555.75" width="4.1" height="4.1" fill="none" stroke="#7a3f98" stroke-width="1.0"/>
<path d="M380.70,585.34 L382.70,581.94 L378.70,581.94 Z" fill="none" stroke="#e8901a" stroke-width="1.0" stroke-linejoin="round"/>
<circle cx="386.40" cy="586.70" r="1.8" fill="none" stroke="#3a5aa8" stroke-width="1.0"/>
<path d="M392.20,583.86 L394.20,587.26 L390.20,587.26 Z" fill="none" stroke="#a4b868" stroke-width="1.0" stroke-linejoin="round"/>
<line x1="404.30" y1="571.50" x2="422.80" y2="571.50" stroke="#111" stroke-width="1.1"/>
<rect x="411.25" y="545.75" width="4.1" height="4.1" fill="none" stroke="#7a3f98" stroke-width="1.0"/>
<path d="M413.30,555.66 L415.30,559.06 L411.30,559.06 Z" fill="none" stroke="#a4b868" stroke-width="1.0" stroke-linejoin="round"/>
<path d="M413.30,586.14 L415.30,582.74 L411.30,582.74 Z" fill="none" stroke="#e8901a" stroke-width="1.0" stroke-linejoin="round"/>
<circle cx="413.30" cy="595.40" r="1.8" fill="none" stroke="#3a5aa8" stroke-width="1.0"/>
<line x1="432.00" y1="587.20" x2="450.00" y2="587.20" stroke="#111" stroke-width="1.1"/>
<path d="M440.60,559.56 L442.60,562.96 L438.60,562.96 Z" fill="none" stroke="#a4b868" stroke-width="1.0" stroke-linejoin="round"/>
<rect x="438.55" y="588.45" width="4.1" height="4.1" fill="none" stroke="#7a3f98" stroke-width="1.0"/>
<path d="M444.10,600.54 L446.10,597.14 L442.10,597.14 Z" fill="none" stroke="#e8901a" stroke-width="1.0" stroke-linejoin="round"/>
<circle cx="437.50" cy="600.60" r="1.8" fill="none" stroke="#3a5aa8" stroke-width="1.0"/>
<rect x="0.5" y="0.5" width="519" height="642" fill="none" stroke="#000" stroke-width="1.2"/>
</svg></body></html>
